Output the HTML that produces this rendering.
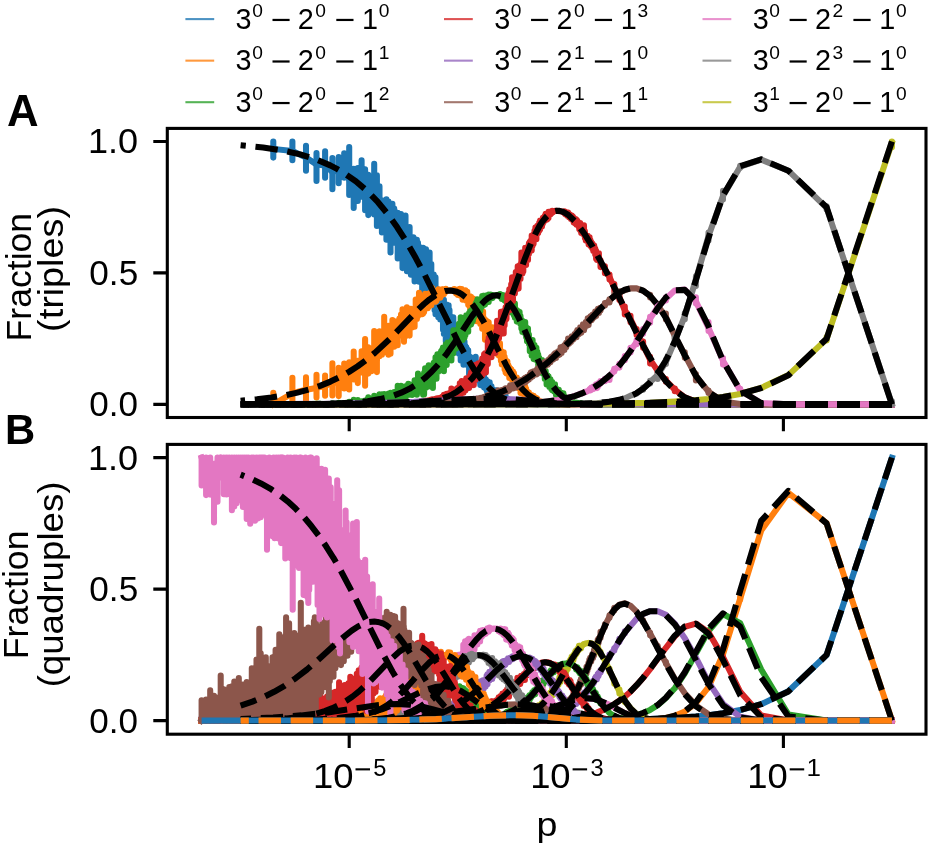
<!DOCTYPE html><html><head><meta charset="utf-8"><style>html,body{margin:0;padding:0;background:#fff;}svg{display:block;filter:blur(0.4px);}</style></head><body><svg width="931" height="845" viewBox="0 0 931 845">
<rect width="931" height="845" fill="#fff"/>
<defs><clipPath id="cA"><rect x="167.3" y="128.4" width="758.7" height="289.1"/></clipPath><clipPath id="cB"><rect x="167.3" y="444.4" width="758.7" height="289.8"/></clipPath></defs>
<g clip-path="url(#cA)" fill="none" stroke-linejoin="round">
<path d="M273.3 148.9L292.4 151L306 157.5L316.5 164.4L325.1 165.6L332.4 172.1L338.7 169.5L344.2 165.3L349.2 179.4L353.7 183.4L357.8 179.9L361.6 183.8L365.1 188.4L368.3 197.9L371.4 195.3L374.2 193.7L376.9 209.4L379.5 206.8L381.9 218.7L384.2 217.6L386.4 223.9L388.5 216.5L390.5 225.6L392.4 218.6L394.2 222L396 226.7L397.7 243.7L399.4 233.9L401 233.3L402.5 234.7L404 247.2L405.5 243.1L406.9 248.4L408.3 249.7L409.6 240.7L410.9 254.1L413.4 248.4L414.6 259.2L415.7 258.5L416.9 259.3L418 261.6L419 271L421.1 260.3L422.2 278.6L423.1 267L425.1 279.1L426 266.4L427.8 287.4L428.7 282.3L429.6 281.3L430.4 287.1L431.3 284.2L432.1 289.8L433.7 285.3L434.6 298L435.5 295.4L436.5 300.7L437.4 299.6L438.3 307.9L439.3 306.9L440.2 306.9L441.1 303.7L442.1 304.6L443 317.8L443.9 317.2L444.9 312.7L445.8 326.2L446.7 321.4L447.7 321.7L448.6 317.9L450.5 328.3L452.3 331.7L453.3 326.6L454.2 336L455.1 337.3L456.1 336.7L457 340.2L457.9 342.3L458.9 347.2L459.8 345.2L460.7 348.3L461.7 344.8L463.5 352.1L464.5 351.6L465.4 356.3L466.3 353.9L467.3 358.5L468.2 358.5L469.1 365.1L470.1 362.3L471 368.9L471.9 371.1L472.9 368.3L473.8 371.1L474.7 370L475.7 366.9L476.6 374.8L477.5 375.7L478.5 375.3L479.4 376L480.3 378.4L481.3 379.7L482.2 379.3L483.1 380.7L484.1 384.3L485 383.8L485.9 384.7L486.9 387.2L487.8 386.4L488.7 388.7L489.7 387.3L490.6 389.2L492.5 391.7L493.4 391.9L494.3 394.5L495.3 394.3L496.2 393.6L497.1 396.3L498.1 394.6L499 397.1L500 395.9L500.9 397.5L501.8 397L503.7 399.2L504.6 398.2L505.6 398.6L506.5 399.7L509.3 401L510.2 400.6L511.2 401.4L514.9 402.5L515.8 402.2L516.8 402.6L517.7 402.6L519.6 403.2L525.2 403.8L538.2 404.3L891.9 404.4" stroke="#1f77b4" stroke-width="6.07" stroke-linecap="square"/>
<path d="M273.3 141.5V157.6M292.4 141.5V160.2M306 145.8V170.7M316.5 153.1V180.9M325.1 151.4V177.7M332.4 158.1V189.3M338.7 157V183.2M344.2 153.3V177.8M349.2 147V195M353.7 168.7V207.9M357.8 168V201M361.6 160.4V196.8M365.1 169.4V210.3M368.3 174.8V215.1M371.4 183.3V207.5M374.2 163.9V214.4M376.9 175.4V225.9M379.5 186.4V218.6M381.9 200.4V232.4M384.2 202.2V230M386.4 199.4V239.7M388.5 201.6V231.5M390.5 213.8V252.5M392.4 203.8V232.3M394.2 208.5V242.6M396 212.2V239.7M397.7 212.7V258.5M399.4 221.2V252.7M401 214V247.4M402.5 221.8V268.1M404 234.1V260.9M405.5 215.6V256.6M406.9 235.5V271.3M408.3 234.6V266M409.6 227.1V260.5M410.9 242.4V274.7M412.1 239.4V264.5M413.4 237.3V269.2M414.6 239.4V281.5M415.7 246V270.4M416.9 239.9V272.5M418 242.9V274.8M419 257.8V281.8M420.1 247.4V278M421.1 249.3V276.5M422.2 265V291M423.1 247.8V279.3M424.1 258.4V284.7M425.1 262.6V301.9M426 249.4V279M426.9 253.6V289.9M427.8 276.5V298.4M428.7 271.6V299.7M429.6 252.6V299M430.4 277.1V300.6M431.3 264V296.8M432.1 280V300.9M432.9 276.6V298M433.7 274.5V304.1M434.6 283.3V310.2M435.5 277.4V314.3M436.5 289V313.8M437.4 289V309.6M438.3 296.1V317.2M439.3 295.1V316.2M440.2 295.7V319.4M441.1 292.9V319.5M442.1 293.7V315.5M443 308.7V329.7M443.9 299.7V333.9M444.9 304V327.6M445.8 313V341.6M446.7 304.6V333.4M447.7 310.7V336.6M448.6 305.2V327.1M449.5 310V331.3M450.5 316.5V338.1M451.4 321.6V339.2M452.3 324.3V345.5M453.3 317.4V335.1M454.2 326.9V347.3M455.1 328V345.6M456.1 326.4V346.5M457 326.2V347.2M457.9 332.8V351.4M458.9 337.1V353.8M459.8 337.9V351.9M460.7 340.8V360.5M461.7 338.2V354.1M462.6 336.1V356.7M463.5 343.9V364.7M464.5 341.6V359M465.4 346V363.5M466.3 347.3V361.9M467.3 349.4V365M468.2 350.4V365.5M469.1 358.6V374.5M470.1 356.9V367.3M471 361.6V375.4M471.9 357.8V377.7M472.9 359.4V374.1M473.8 366.7V377.5M474.7 365.4V375.2M475.7 356.7V372M476.6 369.8V379.7M477.5 367.7V379.7M478.5 370.7V379.3M479.4 371.7V381.3M480.3 374.1V385.1M481.3 374.5V383.6M482.2 375.3V383.1M483.1 376.5V386.1M484.1 376.3V387.5M485 379.2V387M485.9 379.6V388.9M486.9 384V390.9M487.8 381.6V389.3M488.7 384.2V392.1M489.7 382.4V391.3M490.6 386V392M491.5 386.4V394M492.5 389.6V395.1M493.4 389.7V394.5M494.3 392.7V399M495.3 392.1V396.8M496.2 390.4V395.9M497.1 394.6V398.1M498.1 391.9V396.3M499 395.6V399.7M500 394.5V398M500.9 396.1V398.7M501.8 394.7V399.6M502.8 395.9V399.2M503.7 398.2V400.4M504.6 397V399.9M505.6 396V399.6M506.5 398.7V400.6M507.4 398.9V401.1M508.4 399.6V401.3M509.3 399.8V401.8" stroke="#1f77b4" stroke-width="6.07" stroke-linecap="round"/>
<path d="M273.3 404.4L292.4 393.3L306 389.7L316.5 387.9L325.1 386.1L332.4 382.7L338.7 382.8L344.2 376.1L349.2 374.7L353.7 368.5L357.8 372.5L361.6 362.3L365.1 360.1L371.4 358.1L374.2 350.6L376.9 359.4L379.5 346.5L381.9 345.3L386.4 340.4L388.5 343.3L390.5 339.4L392.4 333.3L396 331.6L397.7 337.3L399.4 326.7L401 322.4L402.5 321.6L404 323.2L405.5 328.7L406.9 317.5L408.3 320.2L409.6 327.5L410.9 315.6L412.1 320.8L413.4 318.8L414.6 315.2L415.7 307.8L416.9 312L418 308.9L419 303.4L420.1 303L421.1 306.9L422.2 306.4L423.1 308.1L425.1 302L426 301.3L426.9 301.2L427.8 298.5L428.7 301.7L430.4 297.2L431.3 296.9L432.1 295.5L433.7 296.9L434.6 295.2L435.5 296.7L436.5 296.9L437.4 293.3L438.3 293.7L439.3 292.8L440.2 294.4L441.1 292.7L443 292.3L443.9 292.8L444.9 291.3L445.8 290.5L447.7 290.7L449.5 290.4L453.3 290.5L454.2 290.2L456.1 291.2L457.9 291.5L458.9 293L459.8 293.1L461.7 291.9L462.6 294.9L464.5 295.9L465.4 295L466.3 297.8L467.3 296.3L468.2 301.2L469.1 300.9L470.1 302L471 301.2L471.9 301.8L472.9 308L473.8 308.1L474.7 306.8L476.6 313.5L477.5 309.2L478.5 311.9L479.4 313.3L480.3 317.1L481.3 315.1L482.2 319.7L483.1 318.1L484.1 324.7L485 326.3L485.9 325.4L486.9 329.4L487.8 327.7L488.7 330.5L489.7 335.3L490.6 334.6L491.5 337.5L492.5 336.2L493.4 341.9L494.3 343.2L495.3 341.1L496.2 340.5L497.1 343L498.1 349.5L499 350.9L500 349.8L501.8 359.1L502.8 358.5L503.7 359.6L505.6 367.4L506.5 368.6L507.4 366.1L508.4 370.5L509.3 371L511.2 372.8L512.1 375.9L513 376L514 379.7L514.9 380.2L515.8 382.5L516.8 380.8L518.6 385.8L520.5 387.4L521.4 387.5L522.4 391L524.2 391.6L525.2 389.9L527 394L528.9 394L529.8 396.3L530.8 397L531.7 396.7L534.5 399.3L535.4 398.7L537.3 400.2L538.2 400.5L539.2 401.7L540.1 401.2L544.8 403L545.7 402.8L550.4 403.8L551.3 403.6L556 404.1L569 404.4L891.9 404.4" stroke="#ff7f0e" stroke-width="6.07" stroke-linecap="square"/>
<path d="M273.3 392.9V404.4M292.4 377.8V404M306 377.4V402M316.5 374.8V397.5M325.1 375.5V395.8M332.4 363.4V395.5M338.7 367.7V396.1M344.2 363.5V388.4M349.2 362.2V389.5M353.7 351.6V379.5M357.8 360.9V383.1M361.6 351.2V372.4M365.1 339.1V385.8M368.3 347.4V373.6M371.4 348.3V371.3M374.2 331V360.9M376.9 349.7V372.1M379.5 331.4V356.3M381.9 334.1V354.8M384.2 316.7V352.5M386.4 330.1V349.9M388.5 325.7V354.8M390.5 328.6V353.8M392.4 320V342.2M394.2 321.3V346.7M396 321.7V342.1M397.7 329V345.3M399.4 318.6V335.4M401 314.5V333.8M402.5 309.3V329.7M404 315.6V341.8M405.5 315.7V336.2M406.9 307.2V324.8M408.3 311.6V335.1M409.6 318.2V335.6M410.9 308.8V322.8M412.1 314.3V327.5M413.4 311.7V325.2M414.6 308.6V326.8M415.7 299.6V316.6M416.9 305.6V318.9M418 300.2V315.9M419 292.8V309.3M420.1 297.2V309.8M421.1 296.4V314.1M422.2 301.3V314.3M423.1 303V313.4M424.1 296.2V311.9M425.1 293.8V306.8M426 295.9V305.8M426.9 295.7V307.6M427.8 293.8V308.2M428.7 297.2V306.7M429.6 293.7V303.3M430.4 293.1V301.8M431.3 292.1V305.3M432.1 288V300.3M432.9 292.6V300.2M433.7 293.3V300.7M434.6 292.2V298.4M435.5 291.9V301.7M436.5 294.2V300.7M437.4 290.6V297.4M438.3 289.3V297.3M439.3 290.4V294.9M440.2 291.8V297.7M441.1 290.6V296.1M442.1 289.3V294.2M443 289.2V293.6M443.9 291V294.2M444.9 290.2V292.8M445.8 288.8V291.4M454.2 289.1V291.4M455.1 289.6V291.7M456.1 290V293.6M457 289.8V292.9M457.9 289.7V295M458.9 290.9V295.3M459.8 288.9V295.6M460.7 289.9V295.5M461.7 289V296.6M462.6 292V299.8M463.5 291.8V298.5M464.5 290.5V298.5M465.4 290.3V299.1M466.3 294.2V300.7M467.3 291.9V300.8M468.2 297.1V304.7M469.1 296.5V305.7M470.1 296.4V308.5M471 296.9V308.2M471.9 297.7V308.9M472.9 303.2V312.7M473.8 302.3V312M474.7 299.3V311.8M475.7 305.7V316M476.6 304.9V321.2M477.5 304.8V313.6M478.5 305.4V316.9M479.4 307.2V321.2M480.3 312.2V324M481.3 310.1V319.9M482.2 313.5V328.8M483.1 311.6V326.2M484.1 318.5V329.7M485 320.7V339.7M485.9 320.2V332M486.9 323.6V337.1M487.8 321.8V332.8M488.7 322.4V335.4M489.7 327.5V348M490.6 329.9V340.2M491.5 332.4V342.4M492.5 327.2V342.9M493.4 336.2V346.6M494.3 336V353M495.3 335.4V346.6M496.2 334.5V346M497.1 336.9V350.9M498.1 343.6V355M499 345.7V355.6M500 343.2V356.6M500.9 350.9V360.7M501.8 352.2V364.4M502.8 353.6V364.5M503.7 352.3V365.2M504.6 356.9V369.5M505.6 359.9V372.5M506.5 362.7V373.4M507.4 361.6V370.4M508.4 365.2V374.6M509.3 367.4V377.9M510.2 368.4V377.2M511.2 369.3V376.6M512.1 372.7V380.1M513 371.5V379.7M514 373.4V384.1M514.9 376.8V384.8M515.8 379.8V386.3M516.8 377.6V383.5M517.7 380.5V386.7M518.6 382.7V388.3M519.6 380.2V388.8M520.5 385V393.1M521.4 385.1V389.7M522.4 387.5V393.7M523.3 387.3V394.3M524.2 388.7V393.5M525.2 386.6V393.1M526.1 388.8V394.5M527 392.3V397.5M528 392.1V397.6M528.9 392.6V396.9M529.8 394.8V397.6M530.8 395.5V398.4M531.7 395.1V399.8M532.6 396.7V398.9M533.6 395.9V399.5M534.5 397.8V400.3M535.4 397.5V399.6M536.4 398V400.8M537.3 398.8V400.9" stroke="#ff7f0e" stroke-width="6.07" stroke-linecap="round"/>
<path d="M273.3 404.4L306 404.3L316.5 403.7L332.4 404.4L338.7 403.7L344.2 404.1L353.7 401.9L357.8 401.8L361.6 402.8L365.1 402.1L368.3 399.6L371.4 400.4L374.2 400.2L376.9 398.7L379.5 396.6L384.2 398.1L388.5 396.3L390.5 397.4L392.4 397.5L394.2 395.3L396 396.2L397.7 394.2L399.4 393.3L401 388.9L402.5 393.6L404 391.7L405.5 391.1L408.3 387.4L409.6 389.6L410.9 389.6L412.1 390.5L413.4 388.4L414.6 384.6L415.7 384.9L416.9 386.4L420.1 380.7L421.1 382.4L422.2 380.8L423.1 383.8L424.1 381.4L425.1 373.9L426 382.4L426.9 377L427.8 374.8L429.6 375.8L430.4 373.1L432.1 371.5L432.9 375.4L433.7 370L434.6 370.9L438.3 361.9L439.3 364.6L440.2 359.6L443 354.7L443.9 357.9L444.9 356.7L445.8 352.6L446.7 357.7L447.7 351.8L448.6 352.7L449.5 350.9L450.5 353.6L453.3 341.9L454.2 340.3L455.1 341.9L456.1 340.8L457 341.2L457.9 336.3L458.9 336.7L460.7 328.4L462.6 334.3L463.5 331.2L464.5 331.3L465.4 329.1L466.3 321.3L467.3 322.6L468.2 325.5L469.1 318.8L470.1 316L471 318.4L471.9 317.8L475.7 308.7L478.5 305.1L479.4 305.3L480.3 307.8L481.3 304.5L482.2 302.8L483.1 302.8L484.1 300.2L485 301L485.9 300.8L486.9 297.6L488.7 297.5L489.7 296.5L490.6 296L491.5 296.1L492.5 296.9L493.4 295.8L494.3 295.5L497.1 295.1L499 295.8L500 295L501.8 297.2L502.8 296.9L503.7 297.3L504.6 298.9L505.6 298.3L507.4 301.8L508.4 301.6L509.3 301.9L510.2 304.9L511.2 304.8L512.1 306.7L513 303.5L514 310.5L514.9 308.5L515.8 312.5L516.8 314.3L517.7 314.5L519.6 316.9L521.4 324.3L522.4 326.2L523.3 326L524.2 327.9L525.2 328.2L526.1 332.3L528 334.2L529.8 344.7L530.8 346.2L531.7 348.8L532.6 344.8L533.6 351.8L534.5 349.8L535.4 353.2L536.4 353.2L538.2 360.7L541 366L542 369.1L542.9 370.1L543.8 369.3L544.8 376.1L545.7 374.9L546.6 378.2L547.6 378.2L548.5 378.9L549.4 381.6L550.4 382L551.3 386.1L552.2 384.4L553.2 387.5L554.1 387.5L555 389L556 392.5L556.9 391.9L558.8 392.1L561.6 396.5L562.5 395.6L563.4 396.2L564.4 397.7L566.2 399.5L568.1 398.9L569 400.1L570 400.3L571.8 401.7L572.8 401.4L573.7 402.3L583 403.8L598.9 404.4L891.9 404.4" stroke="#2ca02c" stroke-width="6.07" stroke-linecap="square"/>
<path d="M332.4 403.3V404.4M338.7 402.7V404.4M344.2 403.1V404.4M349.2 401.8V404.3M353.7 399.9V403.3M357.8 400V404.4M361.6 401.2V404.4M365.1 400.5V403.9M368.3 397.3V401.3M371.4 398.5V404.4M374.2 395.9V403.4M376.9 396.5V401.1M379.5 394.3V398.7M381.9 394.4V399.8M384.2 394.1V400.8M386.4 394.4V404M388.5 393.5V400.9M390.5 392.7V401.3M392.4 394V400.3M394.2 392V398.2M396 392.8V400.7M397.7 385.7V398.4M399.4 390V397.2M401 385.8V392M402.5 389V397.5M404 387.8V395.2M405.5 386.2V398.3M406.9 385.8V394.4M408.3 383.7V393.4M409.6 384.8V394.7M410.9 384.8V394.6M412.1 384.8V395M413.4 384.4V393.8M414.6 380.4V388.8M415.7 380.6V389.6M416.9 380.7V394.8M418 373.5V389.6M419 377.1V388.8M420.1 375.7V386.4M421.1 377.9V391.2M422.2 376.4V385.7M423.1 378.1V394.7M424.1 372.9V394.5M425.1 368.4V378.9M426 376.8V387.7M426.9 370.1V386.4M427.8 369.8V380.4M428.7 365.2V386.5M429.6 368.2V381.1M430.4 367.5V378.9M431.3 366.8V377.4M432.1 365.2V376.4M432.9 370V387.9M433.7 362.8V375.8M434.6 365.3V378.4M435.5 357.3V374.5M436.5 360V378.7M437.4 354.4V371M438.3 356.6V371.7M439.3 357.5V370.7M440.2 353.5V365.1M441.1 351.3V363.1M442.1 349.8V362.2M443 347.6V360.2M443.9 352.3V371.3M444.9 351.3V363M445.8 344.4V361.3M446.7 348.4V364.9M447.7 342.5V358.6M448.6 346.2V360.5M449.5 343.2V356.6M450.5 345.2V359.2M451.4 341.3V360.4M452.3 339.6V352.5M453.3 330.2V353.5M454.2 331.9V346.5M455.1 334.4V347.9M456.1 330.1V348.6M457 334.5V347.4M457.9 330.1V342.3M458.9 323.7V343.7M459.8 326V338.9M460.7 317.2V333.5M461.7 317.8V337.9M462.6 329V340M463.5 325.1V336.8M464.5 326.4V337.8M465.4 323.4V335.2M466.3 315.3V330.3M467.3 316.6V327.8M468.2 320.1V331.7M469.1 313V325.7M470.1 311.4V324.6M471 311.6V324.6M471.9 309.9V322.4M472.9 310.3V320.7M473.8 308.4V317.6M474.7 306.2V315.4M475.7 303.5V314.6M476.6 301.7V311.9M477.5 299.2V312.3M478.5 299.8V308.5M479.4 299.7V309.7M480.3 304.4V311.2M481.3 301.2V307.4M482.2 296.1V306.3M483.1 295.9V305.6M484.1 295.9V304.9M485 298.6V304.4M485.9 298.3V303.1M486.9 295.3V299.8M487.8 295.7V301.8M488.7 294.5V302M489.7 295V298.6M490.6 294.6V298.1M491.5 294.9V297.4M492.5 295.8V298.1M500 294.1V296.1M500.9 295V297.6M501.8 296V298.9M502.8 295.1V298.7M503.7 295.9V299.4M504.6 296.6V300.5M505.6 295.7V300.4M506.5 297.8V302.6M507.4 299.7V306.3M508.4 297.8V304.1M509.3 299.1V304.5M510.2 301.9V309.3M511.2 297V312.5M512.1 301.2V309.5M513 300.4V307.7M514 307V315.5M514.9 303.5V317.7M515.8 309.2V316M516.8 310.4V321.6M517.7 310.7V318.8M518.6 311.6V319.9M519.6 312V320.8M520.5 316V324.3M521.4 319.8V328.5M522.4 320.7V331.9M523.3 321.9V329.9M524.2 323.2V332.7M525.2 322V333.2M526.1 327V336.9M527 328.5V341.3M528 328.6V338.5M528.9 334.6V343.8M529.8 340.5V351.3M530.8 342.2V350.8M531.7 344.3V355.8M532.6 340.1V349M533.6 346.3V359.1M534.5 345.1V354.6M535.4 349.4V357.8M536.4 347.8V356.8M537.3 351.8V361.2M538.2 354.5V364.9M539.2 357.8V366.4M540.1 360.2V367.6M541 362.8V370.5M542 360.1V373.1M542.9 365.9V373.5M543.8 366.3V372.3M544.8 371.3V379M545.7 371V378.6M546.6 375.6V384.4M547.6 375.5V381.7M548.5 376.2V382.3M549.4 379.1V387M550.4 379.2V384.8M551.3 383.3V388.9M552.2 382V390.2M553.2 385.1V389.6M554.1 385.6V391.6M555 384.4V390.9M556 390.4V394.9M556.9 389.1V393.9M557.8 390.4V393.6M558.8 389.7V394.9M559.7 392.6V395.8M560.6 392.5V395.9M561.6 395.3V398.9M562.5 394.5V397.4M563.4 393.4V397.2M564.4 396.1V399.5M565.3 397V399.5M566.2 398.3V400.4M567.2 398.1V399.8" stroke="#2ca02c" stroke-width="6.07" stroke-linecap="round"/>
<path d="M273.3 404.4L390.5 404.3L397.7 403.8L401 404L402.5 403.5L404 403.8L408.3 403.3L409.6 403.5L410.9 403.2L412.1 403.5L413.4 403L414.6 403.3L415.7 403.1L416.9 402.4L419 402.7L420.1 402L422.2 402.7L423.1 402.1L424.1 402.6L425.1 401.7L426 401.5L426.9 402.1L428.7 401.5L430.4 401.7L431.3 400.9L432.1 402L432.9 401L435.5 400.1L436.5 400.7L437.4 399.5L440.2 400L441.1 399.6L442.1 398.3L443 398.9L444.9 396.7L445.8 396.4L446.7 395.6L447.7 396.8L448.6 397.1L449.5 394.8L450.5 395L451.4 393.7L452.3 394.3L453.3 392.6L457.9 390.8L458.9 390.2L459.8 388.6L460.7 389.8L461.7 386.1L462.6 387.9L463.5 385.5L464.5 386.3L465.4 385.7L466.3 381.3L467.3 384.1L468.2 384.8L470.1 381.3L471 375.9L471.9 378.3L472.9 375.8L473.8 378.3L474.7 374.6L475.7 372.7L476.6 369.1L477.5 372.9L478.5 368.9L479.4 368.1L480.3 369.6L481.3 365.9L482.2 365L483.1 368.3L484.1 359.8L485 358.3L486.9 359.5L487.8 350.7L488.7 351.9L490.6 345.1L491.5 348.3L492.5 342.7L493.4 343.5L495.3 338.9L496.2 336.5L497.1 331.1L498.1 331.7L499 330.2L500 328.2L500.9 324L501.8 325.3L503.7 317.9L504.6 317L505.6 313.1L506.5 312L507.4 301.6L508.4 301L509.3 301.1L510.2 300L511.2 290.6L512.1 293.5L513 292.1L514.9 285.6L515.8 279.8L516.8 281.2L517.7 272.6L518.6 278.3L519.6 271.3L520.5 273.3L521.4 263.1L522.4 266.3L525.2 254.8L526.1 258.1L527 253.8L528 253.9L528.9 248L531.7 243.1L532.6 240.3L533.6 238.9L535.4 230.9L536.4 235L537.3 230.2L538.2 228.9L539.2 225.9L540.1 226.4L541 223.8L542 223.4L542.9 220.1L544.8 218.6L545.7 217L546.6 216.6L547.6 216.6L548.5 214.2L550.4 213.3L551.3 212.2L552.2 211.7L553.2 212.1L555 210.8L556 210.8L561.6 211.4L563.4 212.5L564.4 212.2L565.3 213.3L568.1 214.5L570.9 217.8L571.8 216.9L573.7 220.8L575.6 221.5L576.5 222.8L577.4 222.8L578.4 224.3L579.3 227.1L580.2 228L581.2 230.3L582.1 230.2L583 231.6L584 230.5L585.8 238L586.8 238L587.7 238.7L588.6 241.6L591.4 244.4L593.3 248.9L594.2 248.7L595.2 251.8L596.1 253.3L597 256L598 257L598.9 257L600.5 262.6L604.9 269L609.5 277L614.3 287.9L619.4 297.5L624.8 310.2L630.5 319L650.1 359.6L657.7 370.9L665.9 380.5L674.8 389.6L684.8 397.3L695.9 401.6L708.5 403.8L723 404.3L891.9 404.4" stroke="#d62728" stroke-width="6.07" stroke-linecap="square"/>
<path d="M424.1 401.6V403.4M425.1 400.7V402.4M426 400.7V402.3M426.9 401.3V402.9M427.8 401V402.8M428.7 400.4V402.4M429.6 400.3V402.2M430.4 400V404M431.3 399.5V402.7M432.1 400.9V403M432.9 399.3V403.5M433.7 399.8V402M434.6 399.6V403.5M435.5 398.8V401.1M436.5 399V402.6M437.4 398.4V401.4M438.3 398.4V401.4M439.3 398.1V401.6M440.2 398.2V401.2M441.1 398.3V403.2M442.1 396.7V400.4M443 397.1V400.6M443.9 394.9V400.3M444.9 395V398.3M445.8 394.7V398.5M446.7 393.9V397.1M447.7 395.1V398.5M448.6 394.5V399.3M449.5 393V396.7M450.5 392.6V397.7M451.4 388.5V395.9M452.3 391.9V397M453.3 389.5V395.6M454.2 390.1V395.7M455.1 389.9V394.8M456.1 389.3V395.1M457 388.6V393.8M457.9 387.7V393.9M458.9 387.3V393.6M459.8 383.4V391.9M460.7 385.9V396.5M461.7 381.1V389.6M462.6 384.2V393M463.5 382.5V392.8M464.5 383.5V389.8M465.4 381.5V390.4M466.3 378.3V386.7M467.3 379.8V388.1M468.2 380.8V388.1M469.1 379.7V387.9M470.1 375.5V385.9M471 372.6V384.2M471.9 373.7V384.7M472.9 365.8V379.3M473.8 374.4V385.1M474.7 368.2V380.1M475.7 364.9V379.7M476.6 364.7V375.1M477.5 367.1V377.4M478.5 363.2V373.1M479.4 363.4V373.2M480.3 365.1V375.5M481.3 361.6V370.6M482.2 358.6V375.6M483.1 363.9V373.9M484.1 354.3V364.3M485 353.3V369M485.9 354.1V372.4M486.9 352.7V364.8M487.8 341.6V364M488.7 337.9V357.3M489.7 343.1V357.6M490.6 335.2V350.5M491.5 343V357.3M492.5 336.6V349.5M493.4 337.1V350M494.3 334.4V346.7M495.3 333.4V353M496.2 331.2V345.2M497.1 320.8V340.7M498.1 325.3V338.6M499 322V338.3M500 321.3V334.6M500.9 311.9V334.1M501.8 318.6V331.7M502.8 314.1V333.3M503.7 311V333.4M504.6 310.7V325.6M505.6 307.3V320.2M506.5 306.2V318.7M507.4 295.3V307.5M508.4 293.4V308M509.3 289.4V307M510.2 292.6V310.1M511.2 284.2V299.6M512.1 277.4V301.8M513 282.6V301.1M514 280.4V294M514.9 279.7V293.6M515.8 272V288.1M516.8 275.9V287.8M517.7 266.4V278.7M518.6 271.2V288.6M519.6 265.3V278.6M520.5 268V279M521.4 252.5V268.4M522.4 259V273.6M523.3 255.7V271.5M524.2 252.9V263.3M525.2 247.7V259.7M526.1 253.1V265M527 247.3V258.6M528 249.5V260M528.9 243.3V254.1M529.8 241.7V251.4M530.8 240.5V249M531.7 235.6V250.6M532.6 235.4V245.8M533.6 234.3V243.7M534.5 230.7V239M535.4 227.6V234.2M536.4 230.2V239.3M537.3 225.9V233.5M538.2 225.2V232.9M539.2 222.9V230.7M540.1 220.6V229.6M541 220.5V227.1M542 220.8V226.4M542.9 217.7V223.5M543.8 217.5V221.5M544.8 215.9V220.8M545.7 213.7V219.7M546.6 214V219.7M547.6 215.1V218.9M548.5 211.7V217.9M549.4 212.6V214.9M550.4 212.3V214.5M551.3 211.2V213.6M552.2 210.9V212.5M564.4 211.2V213M565.3 212.3V214.2M566.2 212.7V214.6M567.2 212.5V215.7M568.1 212.6V215.5M569 214.6V217.3M570 214.6V217.8M570.9 216.5V219M571.8 215.6V218.7M572.8 216.6V220.2M573.7 217.7V222.4M574.6 219.3V222.9M575.6 219V223.8M576.5 219.7V224.7M577.4 220.9V224.6M578.4 222.4V225.9M579.3 222.7V229.2M580.2 223.1V230.2M581.2 228.2V232.9M582.1 228.1V232.8M583 229.7V234M584 225.4V233M584.9 231.4V238.1M585.8 235.8V240.6M586.8 235.8V240.6M587.7 235.7V240.7M588.6 239V244.6M589.6 237.3V244.9M590.5 240.2V246M591.4 242.3V247M592.4 243.6V248.6M593.3 246.7V251M594.2 245.5V251M595.2 248.6V254.4M596.1 250.9V258.8M597 253.7V259.9M598 254.7V259.4M598.9 253.2V260.3M600.5 260.2V267.1M604.9 266.3V273.3M609.5 274.6V279.6M614.3 284V291.3M619.4 293.2V300.1M624.8 306.5V314.5M630.5 315.7V322.3M636.6 329.1V335M643.1 341.5V347.8M650.1 356.9V363.6M657.7 369.3V373M665.9 379V381.8M674.8 388.6V391.3" stroke="#d62728" stroke-width="6.07" stroke-linecap="round"/>
<path d="M273.3 404.3L306 403.8L316.5 404.1L332.4 403.8L338.7 404.1L353.7 403.4L376.9 403.3L384.2 402.7L409.6 402.4L410.9 402L413.4 402.2L414.6 401.8L419 401.4L420.1 401.8L421.1 401.4L429.6 401.4L432.9 401L433.7 401.2L443.9 400.3L453.3 399.8L455.1 400.1L456.1 399.7L457.9 399.8L460.7 399.4L462.6 399.6L465.4 399.2L467.3 399.4L476.6 398.8L493.4 398.7L517.7 399.5L525.2 400.1L530.8 401.1L531.7 400.8L535.4 401.1L542 402.1L549.4 402.5L550.4 402.8L566.2 403.9L579.3 404.3L891.9 404.4" stroke="#9467bd" stroke-width="6.07" stroke-linecap="square"/>
<path d="M273.3 404.4L399.4 404.2L418 403.7L422.2 403.8L429.6 403.4L430.4 403.6L431.3 403.2L434.6 403.4L436.5 403.1L438.3 403.2L440.2 402.8L446.7 402.8L453.3 402L455.1 402.3L456.1 401.9L460.7 401.5L464.5 400.7L466.3 400.8L468.2 399.9L469.1 400.3L470.1 399.7L471.9 399.3L472.9 399.8L473.8 398.9L474.7 399.2L475.7 399.1L477.5 398.5L479.4 398.4L480.3 397.7L481.3 398.1L482.2 398L483.1 397.2L485 396.7L485.9 397.2L486.9 396.2L487.8 396.1L488.7 395.4L489.7 396.2L490.6 395.4L492.5 395.6L494.3 393.9L495.3 394.2L496.2 394L497.1 393.1L499 392.3L500 392.7L501.8 391.2L502.8 391.6L503.7 391.3L505.6 389.4L506.5 390.3L507.4 390.6L511.2 387.2L513 387L514 386.1L514.9 386.2L515.8 385.2L516.8 385L517.7 382.6L519.6 383.5L521.4 382.2L522.4 382.4L524.2 380.7L525.2 379.1L526.1 379.3L528 378.6L528.9 377.9L529.8 376.6L530.8 376L531.7 374.5L532.6 375L533.6 373.2L535.4 372.5L536.4 373.1L539.2 368.7L540.1 368.7L541 367.6L542 367.6L543.8 366.3L544.8 364.4L546.6 363.6L549.4 360.8L550.4 360.8L551.3 358.1L552.2 358.3L553.2 357.6L554.1 355.7L555 355.2L556 355.1L556.9 353.8L557.8 354L558.8 352.8L559.7 353.1L560.6 349.7L561.6 351L562.5 348.3L563.4 348.4L564.4 347.6L568.1 341.8L569 341.9L570 340.6L570.9 340.7L571.8 338.7L573.7 337.6L577.4 333L578.4 332.7L579.3 331.9L580.2 329.8L581.2 330.6L583 326.2L584 328.2L585.8 323.8L586.8 324.4L587.7 320.4L588.6 323L589.6 319.2L590.5 318.1L592.4 317.3L593.3 315.9L594.2 315.8L595.2 313.6L596.1 313.9L598 310.6L598.9 311L600.5 308.9L604.9 304.2L609.5 300.8L614.3 295.5L619.4 292.5L624.8 290.2L630.5 288.3L636.6 288.4L643.1 290.8L650.1 295.9L657.7 305.4L665.9 317L674.8 336L695.9 375.8L708.5 391.7L723 401.5L740.2 404.1L761.2 404.4L891.9 404.4" stroke="#8c564b" stroke-width="6.07" stroke-linecap="square"/>
<path d="M486.9 395.5V397M487.8 395.5V397M488.7 394.6V396.6M489.7 395V397.2M490.6 393.6V396.4M491.5 394.5V396.2M492.5 394.6V397M493.4 393.7V396.6M494.3 392.6V394.7M495.3 393.3V395M496.2 392.5V394.8M497.1 392.1V394.2M498.1 390.3V394.8M499 391.5V393.3M500 391.7V393.6M500.9 390.6V393.4M501.8 390.1V393M502.8 390.6V392.8M503.7 390V392.3M504.6 389.1V391.3M505.6 388.3V390.3M506.5 388.9V391.3M507.4 389.4V391.5M508.4 388.1V391M509.3 387.1V390.2M510.2 385.4V389.1M511.2 385.9V388.5M512.1 386V388.5M513 384.9V388.4M514 384.9V387.4M514.9 384.9V387.2M515.8 383.9V387.6M516.8 382.3V387M517.7 381.3V384.8M518.6 381.8V384.7M519.6 382.1V384.7M520.5 380.6V384.7M521.4 380.1V383.4M522.4 379.7V384.2M523.3 380.1V382.4M524.2 378.5V382M525.2 377.9V382.4M526.1 378V381.6M527 376.9V380.7M528 377.1V379.9M528.9 376.1V379.6M529.8 374.3V377.9M530.8 372.6V377.8M531.7 372V376.6M532.6 373.2V376.5M533.6 371.3V374.4M534.5 371.8V374.4M535.4 370.9V373.7M536.4 371.7V374.4M537.3 368.7V373.7M538.2 368.3V371.9M539.2 366.9V371.8M540.1 367.4V370.8M541 366.3V368.9M542 365.4V368.9M542.9 365.3V368.3M543.8 364.9V367.7M544.8 361.9V366M545.7 362.5V365.6M546.6 362.1V365M547.6 360.8V364.7M548.5 359.8V363.7M549.4 359.4V362.5M550.4 357.8V362.2M551.3 356.8V359.5M552.2 356.2V359.7M553.2 356.3V359.6M554.1 354.4V357.1M555 353.3V357M556 353.8V357.9M556.9 352.3V355.5M557.8 352.2V355.5M558.8 351V355.1M559.7 350.6V354.6M560.6 347.3V351.4M561.6 348.9V352.9M562.5 346.7V349.9M563.4 346.3V350M564.4 345.2V350M565.3 344.3V347.8M566.2 342.9V347.2M567.2 342.2V345M568.1 338.6V343.6M569 340.3V343.7M570 338.9V342M570.9 339.1V342.1M571.8 336.3V340.1M572.8 336.5V339.8M573.7 336V339.1M574.6 334.1V338.1M575.6 333.8V337.4M576.5 331.8V337.2M577.4 330.1V334.5M578.4 331.2V334.4M579.3 329.5V333.7M580.2 327.4V333.2M581.2 327.7V332.7M582.1 327.3V330.3M583 324.3V330.1M584 325.7V330.2M584.9 323.8V327.6M585.8 322V325.2M586.8 322.6V325.8M587.7 318.4V323.4M588.6 321.6V325.1M589.6 317.4V320.7M590.5 316.2V319.5M591.4 315.8V320.3M592.4 314.8V318.9M593.3 314.3V317.7M594.2 314.5V317.3M595.2 311.6V315.2M596.1 312.7V316.1M597 310.5V314M598 308.9V312.2M598.9 308.9V312.9M600.5 307.7V310.6M604.9 303V305.5M609.5 299.4V302.4M614.3 294V296.6M619.4 291.2V293.9M650.1 294.7V297.4M657.7 303.9V306.8M665.9 313.6V319.5M674.8 333.5V338.4M684.8 352.4V357.8M695.9 374.1V380.4M708.5 390.6V393" stroke="#8c564b" stroke-width="6.07" stroke-linecap="round"/>
<path d="M273.3 404.4L447.7 404.4L508.4 403.8L533.6 402.8L548.5 401.4L555 400.3L556 400.4L560.6 399.4L561.6 399.6L562.5 399.1L563.4 399.2L564.4 398.5L565.3 398.8L567.2 398.4L568.1 397.6L569 397.8L570 397.3L571.8 397.2L573.7 396.2L578.4 394.8L580.2 393.6L581.2 393.6L584 392.8L584.9 391.7L585.8 392L588.6 390.5L589.6 389.2L590.5 390.2L591.4 388.8L592.4 388.1L593.3 388.2L596.1 385.5L597 385.9L598 385.6L598.9 383.8L600.5 382.4L609.5 377L614.3 370L619.4 365.4L624.8 357.8L630.5 350.8L636.6 342L643.1 331.7L650.1 318.6L657.7 307.1L665.9 298.8L674.8 290.4L684.8 289.5L695.9 301.4L708.5 327.9L723 360.8L740.2 390.6L761.2 403L788.4 404.4L891.9 404.4" stroke="#e377c2" stroke-width="6.07" stroke-linecap="square"/>
<path d="M591.4 387.5V389.7M592.4 387.2V388.8M593.3 386.5V389M594.2 386.6V388.2M595.2 385.7V387.5M596.1 384.2V386.4M597 384.9V388.1M598 384.7V386.4M598.9 382.8V384.9M600.5 381V383.3M604.9 378.9V381.2M609.5 375.6V380M614.3 368.7V371.6M619.4 363.9V367.6M624.8 356.1V360.2M630.5 347.8V352.4M636.6 340.2V344.2M643.1 329.1V333.7M650.1 316.8V322.7M657.7 305V309.6M665.9 297.3V300.5M695.9 297.4V303.4M708.5 322V330.9M723 358V364.6M740.2 388.9V391.7" stroke="#e377c2" stroke-width="6.07" stroke-linecap="round"/>
<path d="M273.3 404.4L534.5 404.4L584 403.8L597 403.2L614.3 401.1L624.8 398.4L630.5 395.6L636.6 393.6L643.1 388.4L657.7 374.9L665.9 362L674.8 340.8L684.8 316L695.9 279.5L708.5 236L723 196L740.2 166.7L761.2 159.6L788.4 170.7L826.6 207.9L891.9 404" stroke="#7f7f7f" stroke-width="6.07" stroke-linecap="square"/>
<path d="M643.1 387.5V389.8M650.1 380.7V383.5M657.7 372.3V379M665.9 359.9V363.9M674.8 337.2V344M684.8 313.1V319.2M695.9 276.3V286.1M708.5 232.5V240.7M723 190.7V199.4M740.2 165.7V167.7M826.6 206.4V209.5M891.9 401.2V404.4" stroke="#7f7f7f" stroke-width="6.07" stroke-linecap="round"/>
<path d="M273.3 404.4L556 404.2L604.9 403.8L650.1 402.9L684.8 401.1L708.5 399L723 397L740.2 393.9L761.2 387.9L788.4 375.1L826.6 339.1L891.9 142.9" stroke="#bcbd22" stroke-width="6.07" stroke-linecap="square"/>
<path d="M826.6 337V340.5M891.9 141.5V147.2" stroke="#bcbd22" stroke-width="6.07" stroke-linecap="round"/>
<path d="M891.9 404.4L541.8 404.3L528.9 404L521.2 403.3L514.1 402L507.5 400L502.8 398L498.4 395.4L494.1 392.4L490 388.9L482.4 380.7L474.2 369.6L466.6 357.4L458.7 343L424.7 274.8L415.8 258.1L407.2 243L397.2 227.3L387.8 214.1L378 202.2L367.7 191.5L355.8 181.2L343.5 172.7L337 168.9L330.2 165.4L315.7 159.3L300.2 154.4L282.7 150.5L263.1 147.5L240.6 145.2" stroke="#000" stroke-width="6.07" stroke-dasharray="22.46 9.71" stroke-linecap="butt"/>
<path d="M891.9 404.4L568.2 404.4L551.5 403.7L546.5 403L541.8 402L535.2 399.4L528.9 395.4L523.1 390.1L519.4 385.8L515.8 381.1L510.7 373.2L505.9 364.7L483.6 321.6L477.6 311.7L472 303.8L466.6 298L461.6 294.1L458.7 292.5L455.9 291.4L450.5 290.5L445.4 291L440.6 292.6L435.2 295.4L429.5 299.4L424 304L418.3 309.4L390.1 338.6L374.8 352.9L366.2 360L357.7 366.3L349 371.9L340.2 376.9L330.4 381.6L320 385.9L309.1 389.5L297.4 392.6L285 395.3L271.5 397.5L256.9 399.3L240.6 400.8" stroke="#000" stroke-width="6.07" stroke-dasharray="22.46 9.71" stroke-linecap="butt"/>
<path d="M891.9 404.4L600.5 404.4L584.8 403.9L577.8 403L574.5 402.2L568.2 399.9L562.3 396.3L556.7 391.1L551.5 384.6L546.5 376.7L541.8 367.9L537.3 358.5L523.1 326.7L517.6 315.7L514.1 309.6L510.7 304.7L505.9 299.3L501.3 296.3L496.9 295.2L492.7 295.8L488.7 297.7L484.9 300.7L480 305.7L472 316.2L455 342L447.1 353.3L439 363.6L431.6 371.8L424.7 378.2L417 384.1L409.4 388.8L401.3 392.7L391 396.4L380 399.1L367.7 401.2L352.9 402.6L336.2 403.5L315.1 404L240.6 404.4" stroke="#000" stroke-width="6.07" stroke-dasharray="22.46 9.71" stroke-linecap="butt"/>
<path d="M891.9 404.4L723 404.3L708.5 403.8L695.9 401.8L684.8 397.4L674.8 390.4L665.9 381.1L657.7 370L650.1 357.9L643.1 345.4L636.6 332.8L614.3 287.4L604.9 268.9L592.3 246.3L584.8 234.3L577.8 224.7L574.5 220.8L568.2 214.9L565.2 213L562.3 211.6L559.5 210.9L556.7 210.8L554.1 211.4L551.5 212.5L549 214.2L546.5 216.5L541.8 222.4L539.5 226L535.2 234.1L531 243.3L525 258.3L507.5 307.4L499.8 327.7L492.7 344.3L486.1 357.6L478.8 369.7L472 378.6L464.6 386.1L456.8 391.8L452.3 394.4L447.9 396.4L442.9 398.2L437.5 399.8L425.4 402L410.5 403.4L394.3 404L371.4 404.3L240.6 404.4" stroke="#000" stroke-width="6.07" stroke-dasharray="22.46 9.71" stroke-linecap="butt"/>
<path d="M891.9 404.4L581.2 404.3L556.7 403.3L512.4 399.3L491.4 398.7L472 399.1L412.8 402L372.5 403.2L319.6 404L240.6 404.3" stroke="#000" stroke-width="6.07" stroke-dasharray="22.46 9.71" stroke-linecap="butt"/>
<path d="M891.9 404.4L761.2 404.4L740.2 404.1L723 401.4L708.5 392.2L695.9 375.8L684.8 355.4L674.8 335.2L665.9 318L657.7 304.8L650.1 295.9L643.1 290.6L636.6 288.3L630.5 288.3L624.8 289.8L619.4 292.6L614.3 296.1L609.5 300L600.5 308.6L574.5 336.5L562.3 349L549 361.4L537.3 371L525 379.7L514.1 386.1L502.8 391.3L491.4 395.3L478.8 398.5L464.6 400.8L448.8 402.4L428.8 403.5L378.4 404.3L240.6 404.4" stroke="#000" stroke-width="6.07" stroke-dasharray="22.46 9.71" stroke-linecap="butt"/>
<path d="M891.9 404.4L788.4 404.4L761.2 403L740.2 390.5L723 360.8L708.5 326.2L695.9 301.1L684.8 289.9L674.8 290.2L665.9 297.5L657.7 308.2L636.6 341.7L630.5 350.8L624.8 358.6L619.4 365.3L614.3 371L609.5 375.7L600.5 383.1L592.3 388.4L581.2 393.7L574.5 396.1L568.2 397.8L556.7 400.2L541.8 402.1L525 403.2L502.8 403.9L445.4 404.4L240.6 404.4" stroke="#000" stroke-width="6.07" stroke-dasharray="22.46 9.71" stroke-linecap="butt"/>
<path d="M891.9 404.4L826.6 207.2L788.4 170.7L761.2 159.3L740.2 166.2L723 195.5L708.5 237.9L695.9 280.2L684.8 315.2L674.8 341.5L665.9 360.3L657.7 373.4L650.1 382.5L643.1 388.7L636.6 393.1L630.5 396.1L624.8 398.3L619.4 399.8L609.5 401.8L596.3 403.2L574.5 404.1L525 404.4L240.6 404.4" stroke="#000" stroke-width="6.07" stroke-dasharray="22.46 9.71" stroke-linecap="butt"/>
<path d="M891.9 141.5L826.6 338.7L788.4 375.2L761.2 388L740.2 393.9L723 397.1L708.5 399L695.9 400.3L674.8 401.8L650.1 402.8L609.5 403.7L549 404.2L240.6 404.4" stroke="#000" stroke-width="6.07" stroke-dasharray="22.46 9.71" stroke-linecap="butt"/>
</g>
<g clip-path="url(#cB)" fill="none" stroke-linejoin="round">
<path d="M201.6 720.6L542.6 720.4L598.6 720.1L643.1 719.3L674.8 718L695.9 716.5L708.5 715.2L723 713.3L740.2 710.1L761.2 704.2L788.4 691.2L826.6 655L891.9 457.8" stroke="#1f77b4" stroke-width="6.07" stroke-linecap="square"/>
<path d="M201.6 720.6L624.8 720.5L643.1 720.1L657.7 719.1L665.9 718L674.8 715.9L684.8 711.6L695.9 703.2L708.5 687.2L723 654.3L761.2 530.5L788.4 492.8L826.6 523.2L891.9 720.2" stroke="#ff7f0e" stroke-width="6.07" stroke-linecap="square"/>
<path d="M723 653.5V655.7M740.2 596.9V599.6" stroke="#ff7f0e" stroke-width="6.07" stroke-linecap="round"/>
<path d="M201.6 720.6L579 720.4L594.9 720.1L609.5 719.4L619.4 718.5L630.5 716.7L636.6 715.2L643.1 713.1L650.1 709.9L657.7 705.2L665.9 697.9L674.8 688.2L684.8 673.2L708.5 630.9L723 614L740.2 623.2L761.2 669.5L788.4 714.6L826.6 720.6L891.9 720.6" stroke="#2ca02c" stroke-width="6.07" stroke-linecap="square"/>
<path d="M201.6 720.6L520.2 720.5L540.8 720.2L555.7 719.6L568.8 718.5L579 717.2L588.4 715.3L595.8 713.1L597.7 712.1L604.9 709.4L614.3 704.3L624.8 696.6L630.5 691.8L643.1 678L650.1 669.2L665.9 647.8L674.8 636.4L684.8 626.8L695.9 623.6L708.5 632.2L723 657.1L740.2 691.8L761.2 715.5L788.4 720.5L891.9 720.6" stroke="#d62728" stroke-width="6.07" stroke-linecap="square"/>
<path d="M201.6 720.6L493.1 720.5L591.2 719.3L657.7 720.6L891.9 720.6" stroke="#17becf" stroke-width="6.07" stroke-linecap="square"/>
<path d="M201.6 720.6L499.7 720.5L516.5 720.2L528.6 719.6L539.8 718.5L547.3 717.1L550.1 716.1L553.8 715.4L554.8 714.8L559.4 713.3L561.3 712L562.2 711.9L564.1 710.5L565 710.5L566.9 709.5L567.8 708.3L570.6 707.3L572.5 705L574.4 704L575.3 702.8L576.2 702.7L578.1 700.3L579 699.9L580 699L584.6 693.5L585.6 693L589.3 687.2L590.2 687L591.2 684.8L593 682.8L595.8 677.8L596.8 677.8L597.7 675.6L600.5 671.6L609.5 656.4L614.3 649.3L619.4 640.8L624.8 632.6L636.6 618.7L643.1 614L650.1 611.2L657.7 611.2L665.9 614.8L674.8 623.6L684.8 638.2L695.9 657.7L708.5 682.1L723 703.8L740.2 716.8L761.2 720.4L891.9 720.6" stroke="#9467bd" stroke-width="6.07" stroke-linecap="square"/>
<path d="M575.3 700.9V703.8M576.2 701.8V703.9M577.2 700.3V702.2M578.1 699.5V702.4M579 698.8V701M580 698.1V700.4M580.9 696.3V698.4M581.8 695.7V698.2M582.8 694.9V696.8M583.7 693.2V696M584.6 692.4V694.8M585.6 691.9V694.3M586.5 690.7V692.8M587.4 688.5V692.1M588.4 687.6V691.1M589.3 685.7V688.3M590.2 685.8V688.7M591.2 683.8V687.3M592.1 682.4V684.7M593 681V684.1M594 680.2V682.6M594.9 678.4V680.6M595.8 676.8V679.3M596.8 676.5V679.4M597.7 674.1V677M598.6 673.1V675.7M600.5 670.1V672.6M604.9 662.8V665.1M609.5 654.5V657.7M614.3 648.3V650.5M619.4 638.7V641.8M624.8 631.4V633.5" stroke="#9467bd" stroke-width="6.07" stroke-linecap="round"/>
<path d="M201.6 720.6L448.3 720.5L474.5 720.3L495.9 719.6L505.3 719L506.2 718.6L509 718.6L511.8 718.3L512.7 717.9L515.5 717.8L523 716.3L524.9 716.3L526.7 715.5L527.7 715.6L532.3 714.6L535.1 713.5L538.9 712.7L539.8 712.1L540.8 712.2L541.7 711.7L542.6 711.8L543.6 711.1L545.4 710.7L546.4 710L550.1 708.9L551 708.1L552 708.1L552.9 707.6L553.8 707.5L557.6 705.9L559.4 704.7L562.2 704L563.2 703.1L566.9 702.3L572.5 700.3L580 698.6L586.5 698.2L594 698.9L598.6 700.2L609.5 704.9L624.8 713.1L636.6 717.6L643.1 719L650.1 719.9L657.7 720.4L674.8 720.6L891.9 720.6" stroke="#e377c2" stroke-width="6.07" stroke-linecap="square"/>
<path d="M201.6 720.6L392.3 720.5L447.4 719.9L474.5 718.7L479.1 718.1L480.1 718.2L481.9 717.8L482.9 718.1L483.8 717.8L488.5 717.5L496.9 716.4L498.7 716.5L500.6 715.7L501.5 716L504.3 715.3L509.9 714.7L514.6 713.8L515.5 713.9L516.5 713.5L517.4 713.8L519.3 713.1L522.1 712.9L523 712.4L527.7 711.7L529.5 711.7L531.4 711.2L541.7 710L552 709.6L559.4 709.7L570.6 711.2L578.1 712.7L580 713.4L584.6 714.3L592.1 716.3L604.9 718.8L614.3 719.8L624.8 720.4L891.9 720.6" stroke="#7f7f7f" stroke-width="6.07" stroke-linecap="square"/>
<path d="M201.6 720.6L329.8 720.4L425 719.6L523 720.6L891.9 720.6" stroke="#bcbd22" stroke-width="6.07" stroke-linecap="square"/>
<path d="M201.6 720.6L509 720.5L522.1 720.3L533.3 719.6L539.8 718.8L546.4 717.5L547.3 716.9L548.2 716.9L549.2 716.3L552 715.5L552.9 715L553.8 713.9L554.8 714L558.5 711.3L559.4 711.4L560.4 710.7L561.3 708.3L562.2 708.8L563.2 708.1L565 705.7L566 705.8L568.8 701.7L571.6 698.8L572.5 698.5L573.4 695L574.4 695.1L576.2 689.9L577.2 689.7L580 683.7L581.8 680.8L582.8 677.4L584.6 675.5L586.5 669.8L587.4 668.9L590.2 659.5L591.2 659.5L592.1 656.1L593 655.8L595.8 647L604.9 625.6L609.5 616.5L614.3 609.2L619.4 604.6L624.8 603.2L630.5 605.8L636.6 611.6L643.1 621.1L657.7 647.3L665.9 662.9L674.8 678.8L684.8 693.3L695.9 705.4L708.5 714.3L723 718.9L740.2 720.4L891.9 720.6" stroke="#8c564b" stroke-width="6.07" stroke-linecap="square"/>
<path d="M559.4 710.1V712.3M560.4 709.5V711.5M561.3 707.5V709.2M562.2 707.7V709.9M563.2 707.3V708.9M564.1 706V708.3M565 704.5V706.7M566 703.8V707.7M566.9 702V705.2M567.8 702V704.6M568.8 700.6V702.8M569.7 699.3V702.1M570.6 698.6V701.3M571.6 697.4V701.2M572.5 697.1V699.9M573.4 693.7V696.4M574.4 692.3V696.8M575.3 691.6V694.6M576.2 687.8V691.3M577.2 688V691.6M578.1 685.7V689.6M579 684.1V688.3M580 681.4V685.4M580.9 679.1V684.8M581.8 679.2V683.6M582.8 673V680.5M583.7 674.8V679.6M584.6 673.5V677.4M585.6 670.4V674.6M586.5 666.7V673.4M587.4 666.8V670.7M588.4 663V667.7M589.3 659.9V664.6M590.2 657.7V661.7M591.2 657.8V661.6M592.1 654.5V658.4M593 654V657.9M594 650.1V655.4M594.9 647.4V652M595.8 645.3V650.9M596.8 643V646.7M597.7 639.9V644.9M598.6 638.6V642.8M600.5 631.9V637.9M604.9 624.3V626.9M609.5 615.2V617.7M614.3 607.9V610.6M643.1 620.4V621.9M650.1 632.8V635.2M657.7 646.1V648.2M665.9 662.1V663.6" stroke="#8c564b" stroke-width="6.07" stroke-linecap="round"/>
<path d="M201.6 720.6L470.7 720.6L498.7 720.1L506.2 719.4L508.1 719.5L509 719.1L509.9 719.4L510.9 718.9L512.7 718.9L515.5 717.9L516.5 718.1L517.4 717.5L520.2 717.3L521.1 716.6L524.9 716L525.8 715.4L527.7 715L529.5 713L530.5 712.6L531.4 712.7L534.2 710.4L536.1 709.9L537 709.2L538.9 706.2L539.8 707.1L540.8 707.1L541.7 704.6L542.6 704.2L544.5 701.4L546.4 701L547.3 700.3L548.2 697.8L549.2 697.4L550.1 695.1L551 695L552 693L552.9 692.5L556.6 684.5L557.6 684.2L558.5 683.2L559.4 679.2L560.4 679L563.2 673.1L566 668.6L566.9 668.3L571.6 659.2L573.4 656.7L574.4 656L575.3 653L576.2 651.9L577.2 651.4L578.1 649.5L579 648.5L580 647.6L580.9 647.4L583.7 644L584.6 644L585.6 643.5L588.4 642.9L591.2 643.3L594 644.8L594.9 645.5L595.8 647.4L597.7 648.4L598.6 650.4L604.9 660.1L614.3 681.3L619.4 691.4L624.8 701.1L630.5 708.2L636.6 714.3L643.1 717.5L650.1 719.5L657.7 720.3L674.8 720.6L891.9 720.6" stroke="#bcbd22" stroke-width="6.07" stroke-linecap="square"/>
<path d="M530.5 711.4V713.5M531.4 712V713.5M532.3 710.6V713.4M533.3 709.8V712.3M534.2 709.4V711.5M535.1 707.8V711.6M536.1 709V710.8M537 708.2V710.7M537.9 706.5V709.3M538.9 705V707.8M539.8 706V708.5M540.8 705V708.3M541.7 703.3V706M542.6 703V705.4M543.6 701.9V704.7M544.5 700.1V703.2M545.4 699.6V703.9M546.4 699.7V702.4M547.3 698.4V701.8M548.2 695.4V699.3M549.2 696V699.1M550.1 692.9V696.8M551 693.2V696.6M552 689.8V695.4M552.9 689.5V695.1M553.8 688.6V693.9M554.8 686.8V690.5M555.7 684.5V688.2M556.6 681.9V687.1M557.6 682.4V685.8M558.5 681.5V684.8M559.4 677.3V682.1M560.4 677.2V682M561.3 675.2V679.6M562.2 673V677.6M563.2 671V675.1M564.1 669.2V673.4M565 668.8V674.2M566 666.9V672.5M566.9 666.3V669.9M567.8 663.7V669M568.8 662.5V666.1M569.7 660.7V664M570.6 659.3V663.6M571.6 656.9V660.8M572.5 656.5V659.5M573.4 655.1V660.3M574.4 653.8V657.2M575.3 651.5V654.8M576.2 650.4V654M577.2 650.2V652.6M578.1 648.1V650.7M579 645.9V649.8M580 645.7V648.4M580.9 646.6V648.6M596.8 647V648.6M597.7 646.8V649.2M598.6 649.3V651.6M600.5 651.9V654M604.9 658.9V661.9M609.5 668.9V672M614.3 680V683.8M619.4 689.6V693.5M624.8 699.7V702.1" stroke="#bcbd22" stroke-width="6.07" stroke-linecap="round"/>
<path d="M201.6 720.6L447.4 720.5L470.7 720.1L480.1 719.5L487.5 718.5L489.4 718.6L490.3 717.9L491.3 718.4L492.2 717.7L493.1 718L494.1 717.5L495.9 717.2L496.9 717.4L497.8 716.7L499.7 716.4L501.5 715.3L502.5 715.5L503.4 714.9L504.3 715L506.2 713.7L507.1 712.6L508.1 712.8L509 712.5L509.9 711.7L510.9 712.2L511.8 710.9L512.7 711.1L513.7 710.6L514.6 709.2L515.5 709.1L516.5 707.9L517.4 708.8L518.3 707.2L519.3 707L520.2 706.1L521.1 706.4L522.1 704L523.9 703.6L524.9 703L525.8 701.9L526.7 699.5L527.7 699.6L528.6 698.9L529.5 697.4L530.5 696.8L534.2 692.1L535.1 692.5L536.1 690.5L538.9 687.3L539.8 686.6L541.7 683.2L542.6 683.1L543.6 682.5L544.5 680.1L545.4 678.7L546.4 678.4L547.3 677.1L548.2 676.6L550.1 673.3L552.9 671.2L553.8 670.9L554.8 669.1L557.6 666.2L558.5 666.1L559.4 665.4L560.4 665.4L561.3 664.4L563.2 663.7L566 663.4L568.8 663.5L573.4 665.4L574.4 666.1L575.3 667.2L577.2 668.2L580 672.3L581.8 673.1L582.8 676.1L583.7 676.3L584.6 677.6L587.4 682.9L592.1 689.4L594 693.4L594.9 693.5L596.8 697.5L597.7 697.7L598.6 699.7L600.5 702.5L604.9 707.3L609.5 713L614.3 716L619.4 718L624.8 719.5L630.5 720.2L643.1 720.6L891.9 720.6" stroke="#2ca02c" stroke-width="6.07" stroke-linecap="square"/>
<path d="M505.3 713.4V714.9M506.2 712.5V714.6M507.1 711.8V713.4M508.1 712V713.6M509 711.8V713.6M509.9 710.8V713.6M510.9 710.6V713.7M511.8 709.9V711.9M512.7 710V712M513.7 709.2V712M514.6 708V710.9M515.5 707.9V710.5M516.5 706.7V708.9M517.4 707.1V709.9M518.3 704.9V708.4M519.3 705.6V708.2M520.2 704.9V707.7M521.1 704.8V707.5M522.1 702.8V707.3M523 702.1V705.5M523.9 702.3V705M524.9 701.8V705M525.8 700.5V704.1M526.7 698V701.3M527.7 697.2V701M528.6 697.1V702.4M529.5 695.3V700.2M530.5 694.9V698.3M531.4 694.3V697.1M532.3 692.4V695.7M533.3 691.9V695.3M534.2 690.4V693.6M535.1 691V694.3M536.1 689V692M537 686.8V691.5M537.9 686.5V689.8M538.9 683.2V689.3M539.8 685.1V688.1M540.8 683.1V686.7M541.7 680.7V685.8M542.6 681.2V686M543.6 681V683.8M544.5 678.3V681.9M545.4 677.1V680.6M546.4 676.5V679.8M547.3 675.7V678.3M548.2 674.8V678.1M549.2 673.7V676.5M550.1 671.5V674.5M551 670.3V674.2M552 670.7V673.1M552.9 670.1V672.2M553.8 668.2V672.3M554.8 666.7V670.1M555.7 667V669.3M556.6 666.4V668.5M557.6 665V667.1M576.2 667V669.4M577.2 667.4V669.4M578.1 668.8V670.8M579 669.9V671.9M580 671.3V673.4M580.9 671.1V673.6M581.8 671.5V674.3M582.8 673.8V677.3M583.7 674.8V677.3M584.6 675.5V678.6M585.6 677.5V680.9M586.5 679.2V682.2M587.4 681.8V684.5M588.4 682.3V685.9M589.3 683.8V686.4M590.2 685.4V688.4M591.2 686.5V689.5M592.1 688.2V690.4M593 689.3V692.4M594 692V695.1M594.9 692.3V694.5M595.8 693.3V696.2M596.8 696.6V700.3M597.7 696.6V698.7M598.6 698.5V700.6M600.5 701.5V703.4" stroke="#2ca02c" stroke-width="6.07" stroke-linecap="round"/>
<path d="M201.6 720.6L420.3 720.6L442.7 720.4L463.3 719.9L472.6 719.1L475.4 719.2L479.1 718.5L480.1 718.9L482.9 718.1L487.5 717.4L489.4 717.6L491.3 717L495 716.5L495.9 716.1L497.8 716.1L499.7 715.5L500.6 714.8L501.5 715L502.5 714.6L503.4 714.6L504.3 714.9L505.3 714.2L508.1 713.8L509 712.9L509.9 713.5L511.8 712.4L512.7 712.2L513.7 712.5L514.6 711.9L517.4 711L519.3 710.7L520.2 710.1L521.1 710.5L523 709.5L523.9 709.6L525.8 709.2L529.5 707.9L539.8 706.2L545.4 706L551 706.3L558.5 707.5L559.4 708.1L561.3 708.3L564.1 709.5L565 709.5L566 710.2L566.9 710.2L568.8 711L569.7 710.9L572.5 712.6L576.2 713.6L577.2 714.4L578.1 714.4L580 715.2L580.9 715.2L581.8 715.9L583.7 716.4L584.6 716.9L587.4 717.4L591.2 718.5L598.6 719.6L604.9 720.2L624.8 720.6L891.9 720.6" stroke="#8c564b" stroke-width="6.07" stroke-linecap="square"/>
<path d="M201.6 720.6L377.4 720.6L417.5 720.3L423.1 720L431.5 720.1L434.3 719.6L442.7 719.4L443.7 719L445.5 719.1L446.5 718.6L448.3 719L450.2 718.6L452.1 718.8L453 718L455.8 718L457.7 717.4L458.6 717.7L460.5 717.3L461.4 716.7L463.3 717L464.2 716.6L465.1 715.5L466.1 716.3L467 715.7L467.9 715.8L468.9 714.8L471.7 715L473.5 713.5L474.5 713.3L475.4 713.9L476.3 712.2L477.3 712.7L478.2 712.8L479.1 711.8L480.1 711.8L481.9 711L482.9 710.3L483.8 710.1L484.7 710.4L485.7 708.5L486.6 708.7L487.5 707.1L488.5 707L490.3 706.1L491.3 704.7L492.2 705.3L493.1 705.2L494.1 703.5L495 705.3L495.9 702.8L496.9 701.6L497.8 701.4L498.7 699.3L501.5 698.4L502.5 696.3L503.4 697L504.3 696L505.3 694.1L506.2 693.4L507.1 691.2L509 692.9L509.9 689.7L510.9 688.2L511.8 688.6L512.7 686L513.7 684.9L514.6 686.1L515.5 685L516.5 684.7L517.4 682.1L518.3 681L519.3 680.1L520.2 680.7L521.1 679.3L523 678L524.9 676L526.7 672.6L527.7 671.6L529.5 670.8L531.4 668.4L532.3 668.2L536.1 665.4L537 665.2L537.9 664L538.9 664.3L539.8 663.4L540.8 663.4L541.7 662.6L548.2 662.3L549.2 663.1L550.1 662.9L551 663.7L552.9 664.3L557.6 668L558.5 668.4L559.4 670.8L560.4 671.3L561.3 672.8L563.2 674.9L564.1 674.9L565 675.4L566 677.2L566.9 680.2L567.8 680.7L568.8 682.9L569.7 683.2L570.6 684.1L572.5 687.2L574.4 691.9L575.3 693.3L576.2 693.5L578.1 695.4L579 697.7L581.8 700.8L583.7 704.3L584.6 704.4L587.4 708.5L588.4 709L590.2 711.5L591.2 711.7L592.1 712.5L594 713.4L594.9 714.4L595.8 714.6L596.8 715.7L597.7 715.9L598.6 716.8L604.9 718.8L609.5 719.7L619.4 720.5L630.5 720.6L891.9 720.6" stroke="#d62728" stroke-width="6.07" stroke-linecap="square"/>
<path d="M466.1 715.5V717.1M467 714.8V716.4M467.9 715V716.5M468.9 713.9V715.6M469.8 714.3V715.8M470.7 713.7V715.8M471.7 713.8V716.2M472.6 713.5V715.4M473.5 712.4V714.7M474.5 712.3V714.3M475.4 712.9V715M476.3 710.4V713.5M477.3 710V714.2M478.2 711.1V713.8M479.1 710.5V714.2M480.1 710.8V713.2M481 709.3V713.1M481.9 710V712.1M482.9 708.9V711.4M483.8 707.4V711.8M484.7 709.2V711.7M485.7 707.1V710.6M486.6 707.2V710.1M487.5 704.9V708.7M488.5 704.9V708.7M489.4 703.2V707.7M490.3 703.6V708.1M491.3 701.4V706.3M492.2 701.4V706.7M493.1 703.6V707M494.1 701.3V704.9M495 701.4V707.4M495.9 701.1V704.8M496.9 700V703.6M497.8 699.7V703M498.7 697.2V702.2M499.7 697.2V701M500.6 696V702.4M501.5 695.9V701.1M502.5 693.5V698.3M503.4 695.4V700.4M504.3 693V698.4M505.3 691.6V695.8M506.2 691.7V695.1M507.1 689.4V693M508.1 689.5V695.3M509 689.8V696.7M509.9 687.2V692.2M510.9 686.5V689.9M511.8 683.8V690.5M512.7 682.5V689.5M513.7 682.5V686.6M514.6 683.5V688.9M515.5 683.2V687.2M516.5 682.7V687.3M517.4 677.9V684.6M518.3 679.2V682.7M519.3 678.2V683.5M520.2 679V684.1M521.1 675.7V681.5M522.1 676.4V680.6M523 675.3V679.5M523.9 674V678.4M524.9 674.1V680M525.8 672.6V675.5M526.7 670.1V675.4M527.7 670.3V673.2M528.6 669.3V672.5M529.5 669V672.2M530.5 668.3V671.1M531.4 667.2V670.5M532.3 666.8V669.3M533.3 666.1V668.7M534.2 665.1V668.4M535.1 665.2V667.1M536.1 664.5V666.2M537 664.1V666M554.8 664.6V666.4M555.7 665.6V667.5M556.6 666.4V668.6M557.6 667V669.6M558.5 667.2V669.4M559.4 669.3V671.9M560.4 669.8V673.1M561.3 671.4V674M562.2 672.6V675.1M563.2 673.2V677.2M564.1 672.5V676.5M565 674.1V677M566 675.7V679.1M566.9 678.1V681.9M567.8 679.5V682.1M568.8 681.6V684.3M569.7 680.1V685M570.6 681.3V685.5M571.6 684.6V687.8M572.5 686V688.5M573.4 688.1V690.6M574.4 689.7V694.2M575.3 691.7V694.5M576.2 692.1V694.9M577.2 692.7V696.3M578.1 694.1V697M579 696.2V699M580 697.7V700.2M580.9 698.7V701.6M581.8 699.8V701.9M582.8 699.9V703.5M583.7 703.2V706M584.6 703.5V705.2M585.6 704.9V706.7M586.5 705.3V707.8M587.4 707.2V709.4M588.4 708V710.3" stroke="#d62728" stroke-width="6.07" stroke-linecap="round"/>
<path d="M201.6 720.6L366.2 720.6L381.1 720.4L384.8 720L385.8 720.3L387.6 720.4L390.4 719.9L391.4 720.2L392.3 719.9L394.2 720L395.1 719.5L397 720L397.9 719.7L398.9 720.1L399.8 719.4L401.7 719.7L404.5 719L405.4 719.5L407.3 719.8L408.2 719.3L409.1 719.5L411 718.8L412.9 719.1L413.8 718.3L414.7 718.6L416.6 718L417.5 718.7L418.5 718.5L419.4 717L420.3 718L421.3 718.2L422.2 717.7L424.1 717.9L427.8 716.4L428.7 717.4L429.7 717.1L430.6 715.6L431.5 716.1L432.5 714.9L433.4 715.2L434.3 716L435.3 714.5L436.2 715.3L439 712.2L439.9 713.5L440.9 712.6L441.8 712.6L442.7 711.8L443.7 714.2L444.6 712.1L445.5 711.1L446.5 710.6L447.4 711.2L448.3 709.4L449.3 708.7L450.2 709.2L452.1 708.7L454.9 705.3L455.8 706.8L456.7 706.7L457.7 706L458.6 703.5L459.5 703.7L462.3 701.6L463.3 701.5L464.2 701.9L467 698.1L467.9 698.3L468.9 697.6L469.8 694.5L470.7 696.1L471.7 694.4L474.5 694.1L475.4 692L476.3 691.5L477.3 688.4L478.2 690.1L480.1 686L481 686.1L482.9 683L483.8 685.2L484.7 682.7L485.7 682.4L486.6 678.6L487.5 679.4L489.4 675.3L490.3 676.8L492.2 674L493.1 673.9L494.1 671.3L495 670.8L495.9 669.8L496.9 669.9L497.8 669.4L499.7 667.6L500.6 667.9L501.5 665.3L502.5 664.2L504.3 663.7L507.1 661.1L508.1 659.6L509 660.6L510.9 658.7L513.7 658.1L516.5 656.5L517.4 656.7L520.2 656.3L523 656.3L524.9 656.8L526.7 657.9L527.7 658L528.6 658.7L529.5 658.4L530.5 658.7L531.4 659.9L536.1 663.3L538.9 666.7L539.8 666.8L540.8 668.7L541.7 668.5L542.6 670.9L543.6 670.8L544.5 674L545.4 674.9L546.4 675.2L548.2 678.3L549.2 677.9L550.1 680.8L551 682L552 684L552.9 683.6L554.8 687.3L555.7 690.2L556.6 690.1L557.6 692L559.4 693.7L560.4 696.1L562.2 697.6L565 702.3L566.9 704.6L567.8 704.5L569.7 707.5L570.6 707.9L572.5 711L573.4 710.1L574.4 710.9L575.3 712.5L577.2 713.3L579 714.8L584.6 717.4L586.5 718.2L587.4 718.1L588.4 718.7L594 719.7L600.5 720.3L614.3 720.6L891.9 720.6" stroke="#9467bd" stroke-width="6.07" stroke-linecap="square"/>
<path d="M417.5 717.8V719.5M418.5 717.8V719.6M419.4 716.1V718M420.3 717.1V718.9M421.3 717.4V719.4M422.2 716.9V718.9M423.1 716.9V718.8M424.1 716.3V719.6M425 716.1V718.2M425.9 716V717.9M426.9 714.2V718.9M427.8 714.8V717.7M428.7 715.8V718.6M429.7 714.9V718.7M430.6 714.5V718.6M431.5 714.8V717.4M432.5 713.4V716.3M433.4 713.7V716.7M434.3 714.8V718.1M435.3 713V715.8M436.2 714V716.6M437.1 712.9V715.6M438.1 711.5V715.2M439 710.1V716M439.9 711.9V715.4M440.9 711V714.1M441.8 710.8V714.1M442.7 710.4V713.6M443.7 709.9V715.7M444.6 710.1V714.7M445.5 706.6V713.7M446.5 708.8V712.4M447.4 709V713M448.3 707V711.2M449.3 704.6V711.5M450.2 705.5V710.9M451.1 706.6V711.3M452.1 705.6V712.3M453 705.1V710.1M453.9 703.1V709.2M454.9 703V708M455.8 703.6V709.2M456.7 704.5V709.5M457.7 702.4V708.4M458.6 699.7V705.6M459.5 700.1V706.5M460.5 700.9V705.8M461.4 699.7V704.7M462.3 699.1V706M463.3 698.4V704.1M464.2 699.3V705.1M465.1 696.4V703M466.1 696.5V703.2M467 695.5V700.4M467.9 695.3V702.4M468.9 693.7V701.4M469.8 691.3V697.9M470.7 693V699.9M471.7 691.1V700.2M472.6 691.7V696.7M473.5 691V696.6M474.5 689.4V697.9M475.4 689.5V695.3M476.3 687.7V693.9M477.3 684.6V692M478.2 687.5V692.6M479.1 685V692M480.1 681.5V688.7M481 682.3V688.8M481.9 681.5V688.8M482.9 680.2V685.6M483.8 681.1V688.5M484.7 680.2V686M485.7 679.9V686.6M486.6 675.9V680.8M487.5 674.3V684.3M488.5 675.3V680.3M489.4 671.9V680.5M490.3 674.6V679.1M491.3 672.2V677.6M492.2 668V678.9M493.1 671.7V676.8M494.1 668.5V674.6M495 665.2V674.3M495.9 667V673.8M496.9 667.9V672M497.8 666.2V671.4M498.7 666.7V670.3M499.7 665.4V669.4M500.6 664.3V670.9M501.5 663.4V667.1M502.5 661.6V665.8M503.4 661V666.2M504.3 661V665.5M505.3 661.3V664.8M506.2 660.2V663.3M507.1 659.9V662.3M508.1 658.3V661.2M509 659.2V661.9M509.9 657.9V660.5M510.9 657.7V659.7M511.8 656.9V659.5M512.7 656.4V659.2M529.5 657.6V660.2M530.5 658V660M531.4 659V661.4M532.3 658.7V661.4M533.3 660.1V662.3M534.2 660.6V663.9M535.1 661V663.8M536.1 662.1V664.5M537 663.2V665.9M537.9 664.2V667.9M538.9 665.1V668.1M539.8 664.7V668.6M540.8 666.9V670.2M541.7 666.1V670.1M542.6 668.7V673.1M543.6 668.8V672.7M544.5 672.3V675.7M545.4 672.8V677.2M546.4 673.4V676.8M547.3 674.9V678.1M548.2 675.7V680M549.2 676.3V680.5M550.1 678.3V683.5M551 679V684.3M552 682.2V686.1M552.9 680.6V686.1M553.8 683V687.5M554.8 685.6V688.9M555.7 688.6V692.1M556.6 687.9V693.5M557.6 690.2V693.6M558.5 691.1V694.5M559.4 692.2V696.8M560.4 694.8V698.3M561.3 695.4V698.7M562.2 695.6V699.1M563.2 697.4V700.7M564.1 698.6V702M565 701.2V703.7M566 702V704.6M566.9 703.6V705.9M567.8 703.5V706.1M568.8 705V708M569.7 706.2V708.4M570.6 707.1V708.8M571.6 708.6V710.2M572.5 709.4V711.7M573.4 709.3V710.8" stroke="#9467bd" stroke-width="6.07" stroke-linecap="round"/>
<path d="M201.6 720.6L334.4 720.5L342.8 720.1L349.4 720.4L350.3 720.1L362.4 720.2L366.2 719.6L368 719.8L369 719.6L370.8 719.9L371.8 719.4L372.7 719.9L375.5 719.4L376.4 719.7L377.4 719.4L379.2 719.7L380.2 719.4L383.9 719.5L384.8 719.1L388.6 719.2L389.5 718.9L391.4 719.2L395.1 718.4L396.1 719.1L397.9 718.4L398.9 718.7L399.8 718.3L401.7 718.6L402.6 717.9L403.5 718.5L404.5 717.8L406.3 718.2L409.1 717.9L410.1 717.5L411 718L411.9 717L413.8 716.8L415.7 717.7L416.6 717.1L418.5 716.6L419.4 716.8L421.3 716.4L422.2 716.8L423.1 715.6L424.1 716.4L425.9 715.5L426.9 716L428.7 715L429.7 715.5L430.6 714.9L434.3 714.8L436.2 714.2L438.1 714.1L439 714.5L440.9 713.4L444.6 713.5L446.5 712.6L447.4 712.8L448.3 712.3L449.3 712.7L450.2 712.1L451.1 712.6L452.1 712.1L453 712.3L453.9 711.7L455.8 711.8L457.7 711.4L458.6 711.6L462.3 710.3L463.3 710.6L467.9 709.6L470.7 709.5L471.7 709L472.6 709.3L474.5 709.1L478.2 708.3L481 708.4L481.9 707.7L482.9 707.9L483.8 707.4L485.7 707.5L486.6 707.2L489.4 707L491.3 706.5L492.2 706.6L493.1 706.1L494.1 706.4L496.9 706.2L497.8 705.5L500.6 705.7L502.5 705.2L509 704.6L518.3 704.2L527.7 704.7L536.1 706.2L540.8 707.9L541.7 707.8L543.6 708.7L545.4 708.9L546.4 709.4L547.3 709.5L554.8 712.6L557.6 713.1L561.3 714.6L562.2 714.6L565 715.8L569.7 717.3L574.4 718.4L580.9 719.4L591.2 720.3L614.3 720.6L891.9 720.6" stroke="#8c564b" stroke-width="6.07" stroke-linecap="square"/>
<path d="M201.6 720.6L328.8 720.4L334.4 720.6L338.2 720.3L343.8 720.5L345.6 720.3L347.5 720.5L355 719.9L355.9 720.2L356.8 720L358.7 720.3L359.6 719.8L364.3 720.1L365.2 719.4L367.1 719.7L369 719.3L369.9 719.7L370.8 719.3L371.8 719.6L372.7 719.2L373.6 719.5L374.6 718.4L375.5 719.4L376.4 718.9L378.3 719.1L379.2 718.5L380.2 718.8L382 718.6L383 718.9L383.9 717.7L384.8 717.9L385.8 717.6L386.7 718.9L387.6 717.7L388.6 718.3L390.4 716.6L392.3 717.3L393.2 716.1L394.2 716L395.1 715L396.1 718L397 715.9L398.9 716.5L399.8 715.4L401.7 717.3L403.5 714.7L404.5 712L405.4 714.6L406.3 714.9L407.3 715.6L408.2 713.2L410.1 711.8L411 713.6L411.9 712.3L412.9 714.1L413.8 710.1L415.7 713.7L416.6 707L417.5 707.6L419.4 706.7L420.3 708.5L421.3 704.2L422.2 707.4L423.1 701.3L425 707.1L425.9 701.1L426.9 698.1L427.8 701.9L428.7 698.3L429.7 700.2L430.6 700.3L431.5 703.8L432.5 694.5L433.4 697.4L434.3 694.5L435.3 697.1L436.2 695.7L437.1 689.8L438.1 692.5L439 691.5L439.9 692.5L440.9 687.8L441.8 685.2L442.7 687.3L443.7 685.4L444.6 686.9L445.5 678.9L446.5 683L447.4 680.5L448.3 674.4L449.3 678.2L450.2 680.4L452.1 674.6L453 667.6L453.9 670.4L454.9 670.2L455.8 666.1L456.7 663.5L457.7 667.4L458.6 660.4L459.5 660.5L460.5 660.2L461.4 665.7L462.3 658L463.3 653.8L464.2 656.4L465.1 649.1L466.1 652.8L467 653.9L467.9 649.1L468.9 648.4L469.8 646L470.7 646.9L471.7 642.7L472.6 645L473.5 642.6L474.5 643.8L476.3 639.1L477.3 639.4L481 633.8L482.9 632.1L485.7 632.3L486.6 630.8L488.5 630.6L489.4 628.7L490.3 629.7L491.3 628.8L494.1 628.6L495.9 628.9L496.9 628.5L498.7 630.1L502.5 631.3L503.4 633.3L505.3 631.9L506.2 635.2L509 636.2L509.9 639.2L511.8 641.9L512.7 640.8L513.7 642.2L514.6 647.3L515.5 648.6L516.5 648.9L517.4 650.7L518.3 649.8L519.3 651.5L520.2 650.8L522.1 656.3L523 656.5L523.9 660.9L524.9 663.2L525.8 663L526.7 663.4L527.7 668.4L528.6 666.9L529.5 668.6L530.5 672L531.4 672.8L532.3 675.1L534.2 677.1L535.1 680.6L536.1 680.1L537.9 683.5L538.9 688.1L539.8 689.5L540.8 688.4L541.7 691.1L544.5 695.9L545.4 696.4L547.3 699.2L548.2 699.6L549.2 702L550.1 701.5L551 704.8L552 702.9L552.9 706.3L553.8 706.2L554.8 707L555.7 708.3L556.6 708.9L558.5 711.5L559.4 711.4L560.4 711.8L562.2 714.1L566 715.4L568.8 717.3L569.7 716.9L570.6 717.6L573.4 718.5L579 719.6L585.6 720.3L598.6 720.6L891.9 720.6" stroke="#e377c2" stroke-width="6.07" stroke-linecap="square"/>
<path d="M372.7 718.4V720.6M373.6 718.5V720.3M374.6 717.5V719.1M375.5 718.2V720.4M376.4 717.7V720.1M377.4 718V720.6M378.3 718.3V720M379.2 717.6V719.8M380.2 717.6V720.6M381.1 717.8V720.4M382 717.5V720.1M383 717.5V720.1M383.9 715.8V718.8M384.8 716.1V719.8M385.8 716.4V719.7M386.7 717.2V720.2M387.6 716.4V719.2M388.6 716.8V719.6M389.5 714.1V719.3M390.4 713.2V718M391.4 714.9V718.9M392.3 713.5V720.6M393.2 714.4V717.5M394.2 714.3V718.4M395.1 711V719.2M396.1 715.3V719.6M397 712.3V717.8M397.9 714.4V718.5M398.9 713.2V718.6M399.8 713.2V717.2M400.7 713.6V718.3M401.7 713.8V719.2M402.6 712.4V718M403.5 712.3V719.6M404.5 709.3V714.7M405.4 711.3V717.9M406.3 711.4V717.2M407.3 712.6V718.8M408.2 708.2V716M409.1 710.2V715.2M410.1 708V714.9M411 711V716.8M411.9 706.8V715.2M412.9 711.1V717.7M413.8 707.3V714M414.7 706.7V716M415.7 708.2V716.6M416.6 703.8V710M417.5 702.1V712.2M418.5 704V711.1M419.4 701.7V710.9M420.3 704.3V712.4M421.3 700.5V708.4M422.2 702.3V711.1M423.1 694.9V706.3M424.1 699.8V707.5M425 700.1V715.2M425.9 697.3V706M426.9 689.6V709.1M427.8 697V707.1M428.7 693.1V702.7M429.7 695.9V707.7M430.6 693.4V704.5M431.5 692.3V708.8M432.5 686.4V699.4M433.4 692.1V704.1M434.3 689.6V700.5M435.3 691.1V705.9M436.2 690.2V706M437.1 683.9V696.4M438.1 686.9V700.6M439 684.9V696.1M439.9 683.9V699.3M440.9 678.2V693M441.8 679.8V690.7M442.7 680.4V692M443.7 680.6V692.4M444.6 680.5V692.8M445.5 672.8V684.7M446.5 677.8V688.9M447.4 670.2V685.9M448.3 667V680.3M449.3 669.7V687.1M450.2 675V685.8M451.1 672.4V683.2M452.1 667.8V683M453 662.7V672.7M453.9 661.7V676M454.9 665.3V679.1M455.8 661V672M456.7 657.7V671.5M457.7 662V674M458.6 654.9V667.7M459.5 655.4V669M460.5 654.9V665.7M461.4 660.9V670.2M462.3 653.2V668.7M463.3 644.8V658.4M464.2 649.7V665.1M465.1 641.3V653.6M466.1 648.3V660.9M467 649.7V662.6M467.9 639.8V653.6M468.9 638.9V659.6M469.8 640V649.9M470.7 639.8V652M471.7 639.2V647.2M472.6 639.6V649M473.5 639V646.3M474.5 635.3V649.6M475.4 638.8V645.5M476.3 636V642.5M477.3 636.4V644.4M478.2 634.9V640.8M479.1 633.3V639.4M480.1 630.7V641.4M481 630.7V637.6M481.9 630.4V636.5M482.9 630V635M483.8 630.3V634.2M484.7 630.3V634.2M485.7 630.8V633.7M486.6 629.3V632.8M487.5 628.4V631.8M488.5 628.8V631.8M489.4 627.6V629.7M498.7 629.2V631.2M499.7 629.3V631.5M500.6 628.5V632.4M501.5 629.7V632M502.5 630V633.1M503.4 630.4V634.7M504.3 629V635.5M505.3 629.3V633.9M506.2 632.8V639.6M507.1 633.1V639.7M508.1 632.7V639.7M509 634.2V638.4M509.9 636.4V641.3M510.9 637.9V642.7M511.8 637.9V645.6M512.7 638.5V643.2M513.7 639.9V645.4M514.6 644.4V650.1M515.5 644.5V653.4M516.5 645.8V651.4M517.4 648.3V656.7M518.3 646.4V652.3M519.3 648.5V655.3M520.2 647.3V653.2M521.1 651.1V657.7M522.1 653.4V660M523 653.8V661.5M523.9 657.9V664.1M524.9 660V665.7M525.8 660.5V666.3M526.7 660.6V666.2M527.7 665.7V670.9M528.6 663.1V671.1M529.5 665.1V671.3M530.5 668.6V674.5M531.4 668.7V675.2M532.3 669.5V678.5M533.3 673.4V681.7M534.2 674.5V681M535.1 674.4V683.1M536.1 677.7V682.6M537 679.1V684.7M537.9 680.2V686.6M538.9 686.2V690.1M539.8 687V692M540.8 686.1V691.7M541.7 688.8V694.7M542.6 688.7V694.9M543.6 691.3V696.4M544.5 694.3V699.4M545.4 694.5V698.5M546.4 696.2V699.6M547.3 697.8V700.9M548.2 696.9V702.7M549.2 698.2V703.8M550.1 698.9V703.2M551 703.5V706.2M552 701.3V704.1M552.9 705.1V708.1M553.8 704.5V707.3M554.8 705.4V708.3M555.7 707.2V709.5M556.6 707.5V710M557.6 709V710.9M558.5 710.5V712.4M559.4 710.5V712.4M560.4 710.6V712.7" stroke="#e377c2" stroke-width="6.07" stroke-linecap="round"/>
<path d="M201.6 720.6L255 720.4L265.8 720.6L267 720.2L271.5 720.6L273.6 720.2L274.6 720.6L278.4 720.1L282.8 720.6L283.7 720.2L287.6 720.5L289.1 720L289.9 720.3L290.6 719.9L291.3 720.5L292 720.6L293.4 720L294.3 720.3L297.1 719.8L299 720.1L299.9 720.6L302.7 719.5L303.6 720.4L305.5 720.3L306.4 719.5L307.4 720.6L308.3 720.3L309.2 719L311.1 720.3L313 719.3L315.8 719.9L316.7 719.1L317.6 719.5L318.6 719L320.4 719.6L321.4 718.5L322.3 719.5L323.2 719L324.2 719.5L325.1 719.2L327 719.4L329.8 717.6L330.7 717.8L331.6 718.8L332.6 717.6L333.5 718.2L334.4 717.1L335.4 719.3L336.3 717.2L337.2 718.7L338.2 717.2L339.1 718.4L340 717.2L341.9 719.4L343.8 717.8L344.7 717.4L345.6 719.4L346.6 718.3L349.4 716.6L351.2 718.2L352.2 716.1L353.1 716.7L354 715.2L355 716.6L355.9 715.1L356.8 716.7L357.8 715.2L358.7 715.3L359.6 714.6L360.6 716.2L361.5 715L362.4 715.7L364.3 713.4L365.2 710.1L366.2 713.8L367.1 712.6L368 713.2L369 711.6L369.9 712.3L370.8 711.2L371.8 711.9L372.7 708.7L373.6 709.9L374.6 714.2L375.5 710.9L376.4 711L377.4 714.2L378.3 711.9L379.2 711L380.2 711.1L381.1 709.4L382 712.2L383 707.8L383.9 707.4L385.8 708.5L386.7 707.6L387.6 708L388.6 705L389.5 705.7L390.4 702.8L391.4 706.4L392.3 702.9L393.2 706L394.2 704.9L395.1 706L396.1 702.9L397 703.5L398.9 700L399.8 702.2L401.7 699.7L402.6 700.9L403.5 701.3L404.5 699.3L407.3 697.2L408.2 699.2L410.1 695.2L411 697.4L411.9 695.7L412.9 696.7L413.8 695.1L414.7 692.4L416.6 695.4L417.5 693.1L418.5 692.8L419.4 691.3L420.3 694L422.2 691.6L423.1 692.8L424.1 689.4L425 692.4L425.9 690.8L426.9 691L428.7 688.2L430.6 687.6L431.5 687.6L432.5 689.1L433.4 687.4L434.3 688.3L435.3 687.4L438.1 686.5L439 686.7L439.9 686.1L444.6 686.3L445.5 686.1L446.5 686.6L447.4 686.4L450.2 686.9L451.1 687.6L452.1 687L453.9 688L454.9 687.9L456.7 690.4L457.7 689.9L458.6 690.1L459.5 688.3L460.5 691L461.4 690.4L462.3 691.1L463.3 690.4L464.2 692.9L465.1 692.9L467 695.6L467.9 696.4L468.9 696.8L469.8 695.2L470.7 697L471.7 698.2L472.6 698.7L473.5 700L477.3 701.3L478.2 704.5L479.1 703.4L480.1 703L481 705.9L483.8 706.1L485.7 708.5L487.5 708.8L488.5 709.9L489.4 709.4L491.3 712.5L494.1 713.5L495 713.6L495.9 714.2L496.9 714L497.8 714.8L498.7 715L499.7 716.3L501.5 716.4L505.3 718L506.2 717.7L508.1 718.8L520.2 720.2L542.6 720.6L891.9 720.6" stroke="#2ca02c" stroke-width="6.07" stroke-linecap="square"/>
<path d="M303.6 718.9V720.6M304.6 719.3V720.6M305.5 719.5V720.6M306.4 718.6V720.4M308.3 719.5V720.6M309.2 717.9V720.1M310.2 718.6V720.5M311.1 719.3V720.6M312 718.8V720.6M313 716.9V720.4M313.9 717.8V720.3M314.8 718.7V720.6M315.8 718.7V720.6M316.7 717.8V720.6M317.6 718.5V720.5M318.6 717.7V720.2M319.5 717.4V720.6M320.4 718.5V720.6M321.4 716.6V719.7M322.3 717.2V720.6M323.2 717.2V720.2M324.2 718.3V720.6M325.1 717.8V720.4M326 717.5V720.6M327 718.2V720.6M327.9 716.6V720.1M328.8 716.6V719.3M329.8 714.6V720M330.7 716.1V719.7M331.6 717.2V720.6M332.6 716.1V718.9M333.5 715.4V720.2M334.4 715.3V718.6M335.4 716.5V720.6M336.3 715V719.6M337.2 717.1V720.6M338.2 715.3V719.2M339.1 716.4V720.6M340 715.6V720.6M341 716.4V720.6M341.9 717.2V720.6M342.8 716.1V720.5M343.8 715.6V719.8M344.7 714V719.4M345.6 717.5V720.6M346.6 715.6V720.6M347.5 715.9V719.6M348.4 713.9V720.6M349.4 712.6V719M350.3 714.9V719.5M351.2 715V720.4M352.2 714.1V718.8M353.1 714.5V719.4M354 711.9V717.4M355 714.1V719M355.9 711.2V717.3M356.8 713.7V720.5M357.8 712.7V718.1M358.7 712.8V718.3M359.6 712V717.3M360.6 713.3V719.9M361.5 710.7V718.8M362.4 712V719.1M363.4 711V717.3M364.3 710V715.9M365.2 705.6V713M366.2 709.5V717.7M367.1 709.2V715.5M368 709.9V717.2M369 708.7V714.3M369.9 708V715M370.8 708.4V714.4M371.8 708.7V714.8M372.7 705.1V711.5M373.6 707.1V713.5M374.6 710.7V717.6M375.5 708.1V713.9M376.4 706.1V714M377.4 710V718.1M378.3 708.8V715.3M379.2 706.9V715.7M380.2 707.1V716.3M381.1 705.9V713.3M382 708.3V716.7M383 704.3V711.5M383.9 703.3V713.1M384.8 703.9V711.8M385.8 705.2V715M386.7 701.9V710.8M387.6 703.5V714.3M388.6 701.6V710.6M389.5 699.7V709.8M390.4 699.4V706.8M391.4 701.8V710.5M392.3 699V710.3M393.2 701.9V709.7M394.2 701.1V708.9M395.1 702.7V710.4M396.1 698.4V707.1M397 695.9V708.9M397.9 696.7V707.2M398.9 695.2V704.1M399.8 697.4V705.5M400.7 696.5V706.5M401.7 696.2V704.1M402.6 697.2V706.5M403.5 697.1V704.6M404.5 694.4V705.3M405.4 694.5V702.1M406.3 693V702.5M407.3 690.8V700.2M408.2 695.5V704.5M409.1 689.3V701.6M410.1 692.2V699.5M411 694.2V700.6M411.9 691.8V699.7M412.9 691.1V699.6M413.8 687.9V699.5M414.7 689.1V696.2M415.7 690.4V697.2M416.6 691.9V700.5M417.5 689.7V696.1M418.5 687.4V695.5M419.4 688.7V695.3M420.3 691.3V696.9M421.3 690.6V695.3M422.2 689.2V694.1M423.1 690.1V695M424.1 686.6V692.2M425 690.1V695.9M425.9 688.6V692.9M426.9 688.8V693.4M427.8 687.3V691.9M428.7 686.4V691.3M429.7 686.5V691.3M430.6 686.2V689.2M431.5 686V689.6M432.5 687.7V690.3M433.4 686.2V689.3M434.3 686.8V690.3M435.3 685.3V688.5M436.2 686V688.5M437.1 686.1V688.3M449.3 685.7V687.6M450.2 685V687.8M451.1 686.3V688.5M452.1 685.8V688.1M453 685.9V689.4M453.9 686.5V691.1M454.9 686.6V689.5M455.8 687.7V691.3M456.7 688.6V692.3M457.7 687.5V692.3M458.6 687.7V691.6M459.5 686.2V690.1M460.5 689.4V693.4M461.4 687.9V692.8M462.3 688.8V693.8M463.3 688.4V694.1M464.2 690.9V695M465.1 690.1V697M466.1 692.5V697.2M467 693V698.9M467.9 694.3V698.5M468.9 693.7V699.1M469.8 692.1V698.4M470.7 694.7V699.2M471.7 696.2V701.6M472.6 693.8V702.8M473.5 697.9V701.9M474.5 698V702.2M475.4 698.8V703M476.3 698.9V703.6M477.3 697.9V705.5M478.2 702.2V709.4M479.1 701.5V705.3M480.1 700.4V705.3M481 703V708.1M481.9 703.9V707.7M482.9 704.3V710.2M483.8 703.2V708.3M484.7 704.5V709M485.7 706.8V712.3M486.6 706.2V711.7M487.5 707.2V711.3M488.5 707.4V711.5M489.4 708.1V712.9M490.3 709.6V712.3M491.3 709.4V713.8M492.2 711.4V714.1M493.1 711.9V714.6M494.1 712V715.5M495 711.3V714.8M495.9 713.2V716.7M496.9 711.7V715.3M497.8 713.8V716.3M498.7 714.2V715.8M499.7 714.5V717.1M500.6 715.8V717.3" stroke="#2ca02c" stroke-width="6.07" stroke-linecap="round"/>
<path d="M201.6 719.1L206.1 720.5L210.2 718.5L214 720.2L217.5 718.7L220.7 719.4L223.8 718.5L229.3 720.6L231.9 720L234.3 720.6L236.6 718.3L240.9 719.1L242.9 718.5L244.8 718.7L246.7 719.4L248.4 716.8L250.2 718.5L251.8 718.9L253.4 720.2L256.5 718.5L259.3 718.9L260.7 718.3L262 719.5L263.3 718.1L264.6 719.8L265.8 719L267 718.8L268.1 716.9L270.4 717.7L271.5 719L273.6 716.7L274.6 716.1L275.6 719.2L277.5 717.2L278.4 716.9L279.3 717.2L280.2 716.4L281.1 718.9L282 715.2L282.8 718.4L283.7 716.9L285.3 715.4L286.9 715.6L287.6 715.1L288.4 716.8L289.9 714.5L290.6 717.3L291.3 718.1L292 717.5L292.7 714.5L293.4 714.6L294.3 716.5L297.1 714.5L298 718.1L299 716.4L300.8 715.1L302.7 715.7L303.6 714.8L304.6 718.4L305.5 711.1L306.4 713.9L307.4 713.7L308.3 715.6L310.2 711.9L311.1 712.1L313 715.8L313.9 713.9L314.8 714.4L315.8 712.8L316.7 715.4L317.6 713.9L318.6 713.2L319.5 714.1L320.4 712L321.4 714.7L322.3 714.7L324.2 711.8L325.1 713.1L326 713.4L327 711.5L328.8 712.9L329.8 712L330.7 712.3L331.6 711.1L332.6 711.5L333.5 712.6L335.4 711.8L336.3 710.7L337.2 710.6L338.2 711.9L341 709.2L341.9 710.1L342.8 708L343.8 710.1L344.7 709.1L346.6 710.8L347.5 709.4L348.4 708.8L350.3 708.9L352.2 709.6L355 707.4L355.9 711.4L356.8 707.5L358.7 706.6L359.6 707.3L360.6 706.9L361.5 707.8L363.4 706.6L364.3 707.9L365.2 707.5L366.2 706.5L367.1 707.6L368 706.4L369 707.4L369.9 706L372.7 706.4L373.6 706L374.6 706.9L375.5 705.7L377.4 704.6L378.3 705.4L379.2 705.1L380.2 704.3L381.1 704.1L382 705L383 704.3L383.9 704.2L385.8 704.8L386.7 704.7L388.6 703.7L389.5 704.3L391.4 703.8L392.3 704.3L394.2 703.9L399.8 703.9L401.7 704.3L403.5 703.9L404.5 704.3L407.3 704.5L410.1 705.2L411 705L411.9 704.2L412.9 705.1L413.8 705.1L414.7 704.3L415.7 705.7L416.6 706.1L417.5 705.5L418.5 706.5L420.3 705.7L421.3 707L422.2 706.9L423.1 705.9L424.1 707.6L425.9 707.3L427.8 708.4L428.7 707.2L429.7 708.8L430.6 708.4L431.5 709.1L432.5 709.3L433.4 710.3L434.3 709.1L435.3 710.2L436.2 709.4L437.1 711.2L439 710.7L440.9 711.9L441.8 711.9L442.7 712.9L443.7 712.3L444.6 714.2L445.5 712.8L446.5 712.4L448.3 713.3L449.3 714.2L450.2 714L451.1 714.7L453 715.1L453.9 716.8L454.9 715.1L456.7 715.6L457.7 716.6L458.6 716.2L459.5 716.5L460.5 717.7L461.4 717.7L462.3 717.3L465.1 718L466.1 717.6L467 718.7L471.7 718.9L472.6 719.3L476.3 719.2L482.9 720.2L514.6 720.6L891.9 720.6" stroke="#9467bd" stroke-width="6.07" stroke-linecap="square"/>
<path d="M201.6 717.6V720.6M206.1 718.4V720.6M210.2 716.1V720.2M214 718.5V720.6M217.5 716.7V720.5M220.7 717.4V720.6M223.8 715.9V720.6M226.6 717.6V720.6M229.3 715.3V720.6M231.9 717.9V720.6M234.3 718.7V720.6M236.6 715.6V720.6M238.8 715.7V720.6M240.9 716.3V720.6M242.9 715.8V720.6M244.8 716.7V720.6M246.7 714.5V720.6M248.4 714.7V719.1M250.2 716V720.6M251.8 716.6V720.6M253.4 717V720.6M255 716.8V720.6M256.5 712.3V720.6M257.9 716.4V720.6M259.3 716.4V720.6M260.7 712.2V720.6M262 716.8V720.6M263.3 715.5V720.6M264.6 717.4V720.6M265.8 715.3V720.6M267 713V720.6M268.1 714.2V720.6M269.3 713V719.6M270.4 715.4V720.3M271.5 715.8V720.6M272.5 715.4V720.6M273.6 711.6V719.6M274.6 713.5V719.2M275.6 713.4V720.6M276.5 713.2V720.6M277.5 714.9V720.6M278.4 713.4V720M279.3 714.5V719.7M280.2 713.2V719.9M281.1 716.3V720.6M282 712.3V719.4M282.8 715.5V720.6M283.7 713.1V720.3M284.5 712.8V719.3M285.3 711.7V718.2M286.1 712.9V720.4M286.9 711.7V720M287.6 712.5V719.2M288.4 712.9V720M289.1 712.6V718.1M289.9 711.9V718.9M290.6 712.1V720.6M291.3 714V720.6M292 714V720.6M292.7 710.6V717.8M293.4 710.5V717.3M294.3 712.8V719.1M295.2 712.4V718.5M296.2 711.8V718.2M297.1 710.6V718M298 715.3V720.6M299 713V719M299.9 713.1V719.9M300.8 712.1V717.9M301.8 711.8V719.2M302.7 713.1V718.3M303.6 711.3V718.5M304.6 715.1V720.6M305.5 705.6V717.4M306.4 711.3V717.7M307.4 710V716.2M308.3 712.6V718.4M309.2 710.5V717M310.2 709.3V714.4M311.1 708.2V715M312 710.4V718.4M313 711.3V718.5M313.9 707.6V717.7M314.8 711.1V717.6M315.8 710.2V715.5M316.7 711.9V719.8M317.6 708.1V719.4M318.6 709.6V716.2M319.5 710.5V716.8M320.4 705V716.4M321.4 709.7V720.6M322.3 710.7V718.1M323.2 709.8V716M324.2 709.1V714.9M325.1 710.6V716.4M326 710.5V715.9M327 708.7V714.4M327.9 705V715.1M328.8 709.9V716.1M329.8 707.2V715M330.7 707.6V716.5M331.6 706.3V713.6M332.6 708.8V714.3M333.5 709.8V715M334.4 706.6V715.2M335.4 709V718.7M336.3 708.3V713.1M337.2 707.8V714.6M338.2 707.9V714.6M339.1 708.4V715.6M340 707.6V712.6M341 705.2V711.6M341.9 706V712.9M342.8 704.9V714.5M343.8 706.3V712.4M344.7 706.7V711.6M345.6 707.8V712.8M346.6 706.8V713.6M347.5 706.8V712M348.4 705.5V711.8M349.4 705.4V712.6M350.3 702.9V711.1M351.2 705.7V711.6M352.2 707.6V712M353.1 705.8V711.4M354 706V710.2M355 705.4V709.5M355.9 709.2V713.4M356.8 703V709.7M357.8 703.3V708.8M358.7 704.2V709.7M359.6 704.1V710.6M360.6 704.9V709.8M361.5 705.7V710.7M362.4 703.8V709.4M363.4 704V708.3M364.3 706.2V710.9M365.2 703.9V710M366.2 703.4V708.5M367.1 706V709.8M368 704.3V709.4M369 705.8V711.5M369.9 704V707.4M370.8 704V707.9M371.8 704.9V708.3M372.7 705.2V710.1M373.6 704.2V707.3M374.6 705.7V709M375.5 702.4V707.7M376.4 703.9V707.3M377.4 703.1V706.1M378.3 704.2V706.6M379.2 704V706.9M380.2 703.3V705.3M381.1 702.3V705.7M382 704.1V706.3M383 703.5V705.5M383.9 703.3V705.1M384.8 703.5V705.7M411 704.1V705.7M411.9 703.4V705.7M412.9 703.8V706M413.8 703.9V706.3M414.7 703.2V705.5M415.7 703.5V707.2M416.6 705V707.3M417.5 704.4V706.4M418.5 705.4V707.7M419.4 704.3V707M420.3 704.5V706.8M421.3 705.6V709.1M422.2 705.4V708.7M423.1 703.9V707.2M424.1 705.6V709.2M425 706.2V708.8M425.9 706.1V710.4M426.9 706.5V709.2M427.8 707.2V710M428.7 705.8V709M429.7 707V710.6M430.6 705.8V711.4M431.5 706.8V712.1M432.5 707.7V711M433.4 708V712.7M434.3 707.9V710.6M435.3 708.4V711.8M436.2 708V710.8M437.1 709.6V712.4M438.1 709.7V712.4M439 708.4V714.2M439.9 709.1V713.2M440.9 710.6V713.2M441.8 710V713.1M442.7 710.1V714.8M443.7 710.6V714.2M444.6 712.6V715.7M445.5 711.6V714M446.5 710.6V715.6M447.4 711.8V714.4M448.3 711.5V715M449.3 713V715.4M450.2 712.9V715.3M451.1 713V715.9M452.1 713.2V715.8M453 714.1V716.9M453.9 715V717.8M454.9 714.1V716.2M455.8 714.7V717M456.7 714.7V717.1M457.7 715.8V717.4M458.6 715.4V717M459.5 715.1V717.3M460.5 716.5V718.4M461.4 716.9V718.4" stroke="#9467bd" stroke-width="6.07" stroke-linecap="round"/>
<path d="M201.6 720.6L341 720.6L357.8 720.3L360.6 720.5L364.3 720L367.1 720.4L369 720.3L369.9 719.9L371.8 720.2L373.6 719.7L374.6 720.2L375.5 719.8L376.4 720.2L380.2 719.6L381.1 719.2L383.9 719.9L386.7 719.2L387.6 719.3L388.6 718.3L389.5 718.3L390.4 718.8L391.4 718.8L394.2 718.1L395.1 719L396.1 718.1L397 718.9L397.9 717.4L398.9 716.7L399.8 717.9L400.7 716.6L401.7 717.1L402.6 716.9L403.5 714.2L404.5 714.9L405.4 715L406.3 715.7L407.3 714.4L408.2 714.8L409.1 713.7L410.1 715L411 713.6L411.9 713.6L412.9 714.6L413.8 709.8L414.7 710.6L415.7 712.5L416.6 713.1L417.5 711.5L418.5 711.1L419.4 710.2L420.3 711.2L422.2 707.3L423.1 706L424.1 709.9L425 705.4L425.9 706.6L426.9 706L427.8 703.8L428.7 703.8L429.7 700L430.6 699.1L431.5 700.5L432.5 700.4L433.4 693.9L434.3 692.7L435.3 695.2L436.2 695.5L437.1 691.7L438.1 689.5L439 693.3L439.9 686.5L440.9 690.2L441.8 686L442.7 688.9L443.7 686.3L444.6 686.5L446.5 680.5L447.4 684L449.3 678.2L450.2 679.4L451.1 672.4L452.1 679.3L453 669.1L453.9 675.1L454.9 670.4L455.8 668L456.7 669.1L457.7 671.9L458.6 668.7L460.5 665L463.3 660.8L464.2 663.6L465.1 660L466.1 662.7L467 659.6L467.9 660.2L468.9 660.2L469.8 657L470.7 657.3L471.7 656.1L472.6 657.3L474.5 655.8L476.3 655.3L480.1 655.1L481.9 656L482.9 655.6L485.7 657L486.6 658L487.5 658.4L488.5 660.8L490.3 661.6L491.3 660.9L492.2 660.8L493.1 663.2L494.1 664.2L495 663.7L495.9 666.4L496.9 666.3L497.8 667.6L498.7 670.9L499.7 670.1L500.6 671.4L501.5 674.3L503.4 676.9L504.3 674.8L505.3 675.1L506.2 678.2L507.1 678.4L508.1 683.2L509 681.2L509.9 681.8L510.9 683.5L511.8 687.7L512.7 686.7L513.7 689.2L514.6 689.2L515.5 692.2L516.5 692.7L517.4 694.4L518.3 694.5L519.3 696.2L520.2 696.2L523.9 701.5L525.8 702.7L526.7 704L529.5 706.7L531.4 709.2L532.3 708.6L533.3 709.4L534.2 710.8L535.1 710.1L536.1 712L537 711.8L537.9 712.6L539.8 713.4L543.6 715.8L545.4 715.9L547.3 716.9L554.8 718.9L565 720.1L583.7 720.6L891.9 720.6" stroke="#7f7f7f" stroke-width="6.07" stroke-linecap="square"/>
<path d="M382 718.3V720.2M383 718.5V720.6M383.9 718.9V720.6M384.8 718.7V720.6M385.8 718.4V720.6M386.7 717.8V720.2M387.6 717.6V720.3M388.6 717V720.6M389.5 717.1V720M390.4 716.9V720.6M391.4 717.3V720.2M392.3 715.8V720.1M393.2 716.7V719.9M394.2 716.2V720.6M395.1 716.1V720.6M396.1 715.8V719.4M397 716.2V720.5M397.9 714.9V719.3M398.9 712.3V718.9M399.8 715.3V720.2M400.7 714.6V719.6M401.7 714.7V719.2M402.6 715V719.2M403.5 712.1V716.5M404.5 711.8V717.4M405.4 711.2V717.7M406.3 713.3V717.9M407.3 712V717.9M408.2 712.3V718M409.1 711.2V716.1M410.1 711.4V718M411 710.1V716.5M411.9 710.4V716.2M412.9 710.9V718.3M413.8 706.9V713.2M414.7 704.2V713.4M415.7 709.4V720.6M416.6 707.4V716.2M417.5 707.9V717.5M418.5 707.4V716.1M419.4 706.8V713.9M420.3 705.9V716.3M421.3 705.1V713.4M422.2 702.5V711.3M423.1 701.8V712.2M424.1 703.6V714.1M425 700.5V710.4M425.9 702.6V713.2M426.9 701.8V710.4M427.8 699.8V708.2M428.7 699.5V708.6M429.7 695.8V705.9M430.6 693.4V703.7M431.5 693.4V706.7M432.5 695.1V704.9M433.4 687.5V699.8M434.3 688V697.7M435.3 686.8V700.1M436.2 689.3V701.3M437.1 686.1V696.2M438.1 684.9V697.6M439 685.4V698.2M439.9 680V692.9M440.9 684.3V697.2M441.8 677.6V692.2M442.7 677V694.1M443.7 680.8V692.9M444.6 678.1V693M445.5 677.3V697.7M446.5 674.1V685.6M447.4 679.1V689.8M448.3 675V686M449.3 668.7V683.7M450.2 674.1V688M451.1 666.4V678.4M452.1 671.3V684.2M453 663.6V675.1M453.9 664.6V680.9M454.9 665.3V678.8M455.8 662.4V673.3M456.7 664.4V673.5M457.7 667.8V676.7M458.6 665V672.7M459.5 658.6V671.6M460.5 657.7V671M461.4 658V668.3M462.3 657.9V669.4M463.3 657.9V665.1M464.2 660.6V666.4M465.1 656V663M466.1 659.4V666.3M467 657.4V662.6M467.9 658.2V662.8M468.9 658V662.4M469.8 654.5V660M470.7 655.2V659.1M471.7 653.9V657.5M472.6 655.7V659.3M473.5 655.4V657.8M474.5 655V656.8M482.9 654.8V656.7M483.8 654.8V657.2M484.7 655.1V657.8M485.7 655V658.6M486.6 656.4V659.7M487.5 656.8V660M488.5 658.7V662.9M489.4 659.3V663.2M490.3 659.6V663.9M491.3 658.9V662.9M492.2 658.1V662.8M493.1 661V666.4M494.1 661.6V667.4M495 661.2V665.8M495.9 664.2V669M496.9 663.7V669.4M497.8 665.1V669.9M498.7 667.9V675.4M499.7 663.2V673.7M500.6 667.5V674M501.5 671.3V677.7M502.5 672.8V677.9M503.4 673.9V679.4M504.3 671.8V677.2M505.3 672.4V677.9M506.2 675.1V681.6M507.1 674.9V680.8M508.1 680.9V686.4M509 678.4V684.1M509.9 677.9V684.2M510.9 680.7V688.6M511.8 685.4V690.7M512.7 684.3V689M513.7 686.9V692.5M514.6 686.3V692.2M515.5 689.4V694.4M516.5 687.2V696.1M517.4 691.3V697.2M518.3 690.6V699.7M519.3 692.3V699.1M520.2 694.3V698.4M521.1 695.9V699.9M522.1 695.3V700.7M523 698.4V702M523.9 699.4V703.8M524.9 700.7V703.8M525.8 700.9V704M526.7 702.2V705.4M527.7 702.1V706.2M528.6 704.3V707.5M529.5 704.9V707.9M530.5 706.3V710M531.4 707.9V710.9M532.3 707.4V710M533.3 708.4V710.5M534.2 709.7V713.3M535.1 709.3V711M536.1 711.1V712.9M537 710.6V712.9M537.9 711.9V713.8" stroke="#7f7f7f" stroke-width="6.07" stroke-linecap="round"/>
<path d="M201.6 720.6L282.8 720.6L287.6 720.4L288.4 720.6L296.2 720.6L299 720.3L299.9 720.5L305.5 720.6L307.4 720.3L308.3 720.6L313.9 719.9L316.7 720.4L317.6 719.9L319.5 720.3L321.4 720L324.2 720.1L325.1 720.5L326 719.3L327.9 719.3L328.8 719.9L331.6 719.3L332.6 720.6L333.5 719.4L334.4 720.1L335.4 719.5L336.3 719.8L337.2 718.4L339.1 719.3L340 718.3L341 719.1L341.9 719.5L342.8 719.1L343.8 719.1L345.6 718L346.6 718.6L347.5 718.5L348.4 717.4L349.4 717.9L350.3 717.2L351.2 717.8L352.2 719.2L353.1 718.9L354 719.4L355 716.1L357.8 718.1L358.7 716.2L359.6 716.6L360.6 715.8L361.5 717.3L362.4 717.5L363.4 713.2L364.3 716.8L366.2 712.6L367.1 717.7L368 713L369 713.8L369.9 713.9L370.8 712.8L372.7 717.1L373.6 708.3L374.6 712.5L375.5 709.5L376.4 708.6L377.4 710L379.2 708L380.2 705.3L381.1 707.5L382 705L383 708.5L383.9 708.3L384.8 706.4L386.7 703.9L387.6 699.1L389.5 703.3L390.4 696.7L391.4 701L393.2 699L395.1 702.6L396.1 697.8L397.9 699.5L398.9 695.3L400.7 696L401.7 699.3L403.5 684.8L404.5 686.9L405.4 685.2L406.3 688.2L407.3 683.3L408.2 688.5L409.1 686.7L410.1 682.1L411 688L411.9 681.6L412.9 679.7L413.8 673.7L414.7 681L415.7 676L416.6 678.6L417.5 677.1L418.5 683.1L420.3 668.4L421.3 669.4L422.2 669.4L423.1 661.6L425 670.3L425.9 666.4L426.9 665.1L427.8 660.1L428.7 665.2L429.7 661.3L430.6 659.4L431.5 662.2L432.5 659.7L433.4 662.6L434.3 658.4L435.3 661L437.1 655L438.1 656.1L439 656L439.9 655.6L440.9 654.4L441.8 655.1L442.7 654.9L446.5 655.4L447.4 655.9L448.3 655.2L449.3 655.7L451.1 657.7L452.1 661.2L453 659.1L453.9 658.6L454.9 658.8L455.8 665.8L456.7 665.8L457.7 662.3L458.6 665.6L459.5 665.1L460.5 666.8L461.4 665.8L462.3 672.3L464.2 668.8L466.1 675.5L467 674L467.9 675.8L468.9 680L469.8 677.9L470.7 679.4L471.7 682.7L472.6 681.8L473.5 688L474.5 685.3L476.3 691.8L477.3 692.5L478.2 690.5L479.1 695.2L480.1 696.2L481.9 699.6L482.9 697.9L483.8 697.2L485.7 702.4L486.6 703.2L487.5 705.8L489.4 708.8L490.3 706.8L491.3 709.6L492.2 710.9L493.1 711.6L494.1 711.6L495 712.9L496.9 713.7L497.8 713.6L498.7 715.7L499.7 715.3L500.6 716.3L501.5 716.6L502.5 716.2L504.3 717.7L507.1 718.2L508.1 718.8L512.7 719.7L521.1 720.4L536.1 720.6L891.9 720.6" stroke="#ff7f0e" stroke-width="6.07" stroke-linecap="square"/>
<path d="M326 718.4V720.5M327 718.6V720.3M327.9 718.4V720.6M328.8 718.6V720.6M329.8 718.6V720.6M330.7 718.4V720.6M331.6 717.6V720.6M332.6 719.4V720.6M333.5 718V720.6M334.4 718.9V720.6M335.4 717.5V720.6M336.3 718.8V720.6M337.2 717.2V719.8M338.2 717.6V720.5M339.1 715.9V720.6M340 716.4V720.6M341 717.1V720.6M341.9 717.8V720.6M342.8 717.5V720.6M343.8 717.7V720.6M344.7 716.8V720.3M345.6 716.4V720.3M346.6 716.9V720.5M347.5 716.4V720.6M348.4 714.7V719.5M349.4 715.4V720.6M350.3 714.8V719M351.2 714.7V720.5M352.2 716.7V720.6M353.1 716.7V720.6M354 716.4V720.6M355 713V719.5M355.9 712.9V720.6M356.8 713.7V720.6M357.8 715.6V720.6M358.7 713.7V719.2M359.6 713.4V720.6M360.6 713.1V718.6M361.5 709.4V720.3M362.4 714.7V720.6M363.4 709.1V716.5M364.3 711.1V720.6M365.2 709.5V720.6M366.2 706.9V716.9M367.1 714.3V720.6M368 703.3V716.7M369 709.6V717.9M369.9 703.7V718.1M370.8 708.4V717.7M371.8 711V720.6M372.7 709.9V720.6M373.6 704.4V714M374.6 707.6V717.6M375.5 703.9V715.9M376.4 704V712.8M377.4 702.3V715.2M378.3 700.3V714.4M379.2 703.3V712.6M380.2 698.3V713.5M381.1 700.7V718.8M382 699.6V709.9M383 700.9V720.6M383.9 700.4V715.2M384.8 697.2V712.4M385.8 695.6V710.2M386.7 697.8V711.7M387.6 693.4V709M388.6 690.3V711.3M389.5 696V713.3M390.4 689.3V705M391.4 695.2V708.2M392.3 693.8V707.8M393.2 685V709.2M394.2 693.4V716.6M395.1 693.6V712M396.1 689.2V707.1M397 689.7V710.7M397.9 690.1V706.6M398.9 686.7V703.3M399.8 686.5V704.9M400.7 684.7V704.3M401.7 692.1V707.5M402.6 682.5V702.1M403.5 677V693.6M404.5 678.1V694.7M405.4 677.6V693.2M406.3 671.9V701.1M407.3 673.6V692.7M408.2 679.6V696.5M409.1 679.1V702.5M410.1 673.7V691.5M411 681V695.8M411.9 669.8V696.7M412.9 671.6V688.1M413.8 666.3V686.8M414.7 671.6V687.7M415.7 660.5V686.4M416.6 671.8V686.7M417.5 661.4V684.6M418.5 676V693.5M419.4 670V693.8M420.3 660.2V677.9M421.3 662.2V676.6M422.2 663.4V675.2M423.1 654.6V667.4M424.1 660.6V672M425 662.5V678.2M425.9 660.2V671.4M426.9 660.2V670.3M427.8 654.5V664.8M428.7 659.2V670.4M429.7 656.9V666.1M430.6 655.4V665.2M431.5 657.2V665.9M432.5 655.5V664.5M433.4 659V668.3M434.3 654.8V661.8M435.3 656.4V664.2M436.2 654.5V661.9M437.1 652.1V659.5M438.1 653.9V657.9M439 654V658.5M439.9 654.4V658.2M440.9 651.9V656.4M441.8 654V656.2M446.5 654.6V656.1M447.4 654.4V657.2M448.3 652.3V657M449.3 653.5V657.6M450.2 652.6V658.6M451.1 654.9V660.5M452.1 657.8V663.7M453 656V661.6M453.9 655.6V666.5M454.9 655.1V663.8M455.8 662.7V671.7M456.7 662.2V669.4M457.7 658.7V668.1M458.6 659.3V669.5M459.5 658V670.2M460.5 662.2V674.9M461.4 661.3V669.8M462.3 667.3V676.7M463.3 662.2V675.3M464.2 664.6V675M465.1 667.2V677.2M466.1 669.1V679.8M467 667.1V680.1M467.9 670.8V680.4M468.9 674.9V684.5M469.8 673V685.5M470.7 673.4V683.8M471.7 673.6V690M472.6 675.4V687.4M473.5 680.5V695.8M474.5 677.2V691.9M475.4 677.1V693.1M476.3 687.7V696.7M477.3 688.6V696.8M478.2 685V695.4M479.1 688.8V699M480.1 692.7V699.8M481 694V702.1M481.9 696.2V706.9M482.9 694.2V704M483.8 693.8V700.8M484.7 696.3V705.2M485.7 698.5V707.2M486.6 700.6V706.7M487.5 702.3V708.6M488.5 702.4V710.5M489.4 705V712.7M490.3 703.5V709M491.3 706.8V712.6M492.2 708.1V714M493.1 708.6V714.9M494.1 709.8V715.5M495 711.4V715.3M495.9 711.5V714.7M496.9 712.3V715.2M497.8 712.1V714.8M498.7 713.6V717.1M499.7 714.3V716.9M500.6 715.2V717.7M501.5 715.5V717.9M502.5 715.2V717.4M503.4 716.2V717.9" stroke="#ff7f0e" stroke-width="6.07" stroke-linecap="round"/>
<path d="M201.6 720.5L220.7 720.6L223.8 720.3L236.6 720.6L240.9 719.8L242.9 720.6L244.8 720.6L246.7 720.2L248.4 718.4L250.2 720.4L251.8 719.9L253.4 720.3L256.5 718.9L257.9 720L259.3 718.9L260.7 720.6L262 719.6L263.3 720.6L264.6 719.5L265.8 720.2L267 719.3L268.1 720.6L269.3 719.2L270.4 719.3L271.5 720L273.6 720.6L275.6 718.7L276.5 719.2L277.5 718.8L278.4 717.4L279.3 719.3L281.1 717.7L283.7 718.5L284.5 715.7L285.3 718.6L286.1 719L287.6 715.7L288.4 715.9L289.1 718L289.9 716.7L291.3 717.8L292 716.7L292.7 716.6L293.4 717.4L294.3 714.4L295.2 718.1L296.2 714.7L297.1 713.1L298 712.9L299 716.4L299.9 717.2L300.8 720L301.8 716.6L302.7 711L303.6 719.8L304.6 719.6L305.5 713.9L306.4 714.3L307.4 720L308.3 715.5L309.2 714.3L310.2 718.9L311.1 712.3L312 718.2L313 711.3L315.8 718.4L316.7 714.5L317.6 713.5L318.6 713.4L319.5 714.6L320.4 713.1L321.4 709.3L322.3 714.9L324.2 709.7L325.1 711L327 704.7L327.9 711.2L328.8 708.8L329.8 720.3L330.7 710.2L331.6 705.8L332.6 712.5L333.5 702.3L334.4 714.9L335.4 701.1L336.3 708.5L337.2 710.2L338.2 707.5L339.1 706.1L340 708.9L341 710.1L341.9 705.8L342.8 698.5L343.8 700.4L344.7 695.4L345.6 704.1L346.6 702.3L347.5 701.6L349.4 696.4L350.3 689.2L351.2 693.8L352.2 695.9L353.1 689L354 699.4L355 701.5L355.9 690.3L356.8 692.2L357.8 691.7L358.7 686.6L359.6 692.6L360.6 690.6L361.5 687.1L363.4 682.1L364.3 686L365.2 684.3L366.2 698.3L367.1 677.2L368 691.8L369 682.4L369.9 667.2L370.8 682.1L371.8 688.1L372.7 669.5L373.6 680.5L374.6 677.3L375.5 676.4L376.4 670.5L377.4 669.4L378.3 673.1L379.2 665.7L380.2 675.2L381.1 666L382 671.6L383 664L383.9 669.8L384.8 667.6L385.8 657.6L386.7 668.7L387.6 667.9L388.6 659.1L389.5 661.8L390.4 661.5L391.4 659.4L392.3 649.5L393.2 660.9L395.1 654.7L396.1 657.6L397 653.7L397.9 651.3L398.9 654.8L399.8 648.3L400.7 653.7L401.7 650.4L402.6 648.6L403.5 642.1L404.5 651.7L406.3 643.4L407.3 647.8L408.2 645.3L410.1 647.2L411 645.5L411.9 646L412.9 645.5L414.7 645.4L415.7 646.2L417.5 645L419.4 646.7L421.3 647.7L422.2 643.5L423.1 648.3L424.1 648.8L425 650.9L425.9 651.2L426.9 649.6L427.8 653.3L428.7 654.8L430.6 655.7L431.5 655.3L432.5 658.3L433.4 658.7L434.3 661.6L435.3 656.7L436.2 661.6L437.1 664.2L438.1 663.6L439 666.1L439.9 672.7L441.8 664.8L442.7 670.2L443.7 669.5L444.6 677.2L445.5 681.5L446.5 680.4L447.4 675.2L448.3 684.4L449.3 685.3L450.2 680.9L451.1 686.6L452.1 688L453 687.8L454.9 692.7L455.8 692.6L456.7 696.6L458.6 695.9L459.5 701.2L460.5 700.5L461.4 703.7L462.3 701L463.3 702.4L464.2 703L466.1 705.1L467 706.7L467.9 709.9L468.9 708.4L469.8 711.7L470.7 708.5L471.7 711.7L472.6 712.1L473.5 714.6L474.5 713.1L475.4 713.7L476.3 716.4L477.3 716.1L479.1 717L480.1 716.3L481 716.3L481.9 718.2L482.9 717.6L483.8 718.4L484.7 718.1L485.7 719.5L487.5 718.9L488.5 719.5L489.4 719.3L490.3 719.8L491.3 719.6L494.1 720.2L509.9 720.6L891.9 720.6" stroke="#d62728" stroke-width="6.07" stroke-linecap="square"/>
<path d="M231.9 719.4V720.6M238.8 719.5V720.6M240.9 718.9V720.6M242.9 719V720.6M244.8 718.6V720.6M246.7 718.8V720.6M248.4 717V719.5M250.2 718.2V720.6M251.8 718.2V720.6M253.4 719V720.6M255 717.2V720.6M256.5 717.3V720.6M257.9 718V720.6M259.3 716.9V720.6M260.7 718.4V720.6M262 718V720.6M263.3 716.6V720.6M264.6 717.4V720.6M265.8 717.3V720.6M267 717.5V720.6M268.1 718.7V720.6M269.3 717.2V720.6M270.4 717.2V720.6M271.5 717.4V720.6M272.5 714.5V720.6M273.6 717.3V720.6M274.6 717.2V720.6M275.6 714.2V720.6M276.5 716.3V720.6M277.5 716V720.6M278.4 714.5V720.2M279.3 715.8V720.6M280.2 715.7V720.6M281.1 715.2V720.6M282 713.6V720.6M282.8 714.8V720.6M283.7 711.8V720.6M284.5 712.1V720.6M285.3 715.5V720.6M286.1 716V720.6M286.9 714V720.6M287.6 712.2V718.6M288.4 712.2V720M289.1 714.5V720.6M289.9 712.1V720.6M290.6 713.4V720.6M291.3 712.5V720.6M292 713.3V720.6M292.7 708.5V720.6M293.4 713.6V720.6M294.3 709.6V719.8M295.2 713.3V720.6M296.2 711.1V720.6M297.1 706.5V718.6M298 708.2V717.5M299 712V720.6M299.9 712.6V720.6M300.8 713.9V720.6M301.8 712.6V720.6M302.7 701.2V715.2M303.6 714.4V720.6M304.6 714.6V720.6M305.5 707.9V719.5M306.4 708.1V720.6M307.4 715.5V720.6M308.3 704.5V720.6M309.2 709.3V719.1M310.2 713.1V720.6M311.1 705.1V717.5M312 710.7V720.6M313 697V717M313.9 706V720.6M314.8 708.4V720.6M315.8 710.4V720.6M316.7 708.4V720.6M317.6 704.3V720.6M318.6 704.9V719.2M319.5 707.5V720.6M320.4 695.8V720.6M321.4 702.2V716.1M322.3 707.7V720.6M323.2 701.5V719.4M324.2 698.5V720.6M325.1 703V717.9M326 700.7V714.3M327 696.5V714.6M327.9 703.2V718.6M328.8 698V720.6M329.8 709.8V720.6M330.7 701.7V720.6M331.6 698.1V713.3M332.6 702.2V720.6M333.5 692.5V714.8M334.4 705.2V720.6M335.4 691.8V716.8M336.3 700.7V720.4M337.2 701.1V720.6M338.2 697.9V716.6M339.1 682.3V715.3M340 700.6V720.3M341 701.3V719.1M341.9 696.3V715.8M342.8 687.7V710.8M343.8 691.1V710.2M344.7 685V707.5M345.6 693.5V718.4M346.6 692.2V712.7M347.5 691.1V719.9M348.4 683.3V709.9M349.4 685.7V708.3M350.3 676.8V699.6M351.2 679.7V710.7M352.2 685V713.5M353.1 678.6V709M354 689.6V712.5M355 686.6V719.3M355.9 679.1V702.6M356.8 673.9V704M357.8 679.5V708.5M358.7 670.2V697.6M359.6 676.9V706M360.6 676V702.2M361.5 667.5V698.7M362.4 674.3V699.4M363.4 671.5V697.8M364.3 675.2V708.5M365.2 671.7V696.3M366.2 686.3V710.9M367.1 660.9V691M368 675.7V707.1M369 670.7V705.1M369.9 649.6V677.5M370.8 668.3V701.5M371.8 672.8V699.9M372.7 652.6V685.3M373.6 669.7V693.6M374.6 665.4V688.3M375.5 661.9V691.9M376.4 659.1V681.2M377.4 656.7V679.3M378.3 658.1V686.5M379.2 646.7V679.1M380.2 661.6V686.8M381.1 638.4V684.5M382 661.5V682M383 653.9V674.3M383.9 660V683.3M384.8 657V679M385.8 637V667.6M386.7 658.4V677.6M387.6 659.1V676.9M388.6 648.6V669.6M389.5 653.4V684.9M390.4 651.3V671.8M391.4 647.1V671.4M392.3 637.1V661.5M393.2 650V668.2M394.2 646.8V664.1M395.1 641.7V662.1M396.1 641.7V664.8M397 641V670.6M397.9 641.3V658M398.9 645.5V661.3M399.8 638.2V654.8M400.7 641.9V659.7M401.7 644.3V658.3M402.6 644.2V655.9M403.5 637.1V646.2M404.5 646.6V656.9M405.4 643.8V654.3M406.3 638.6V648.1M407.3 643.9V650.7M408.2 643V650.6M409.1 643.1V648.7M410.1 644.9V649.2M411 643.9V647.2M411.9 644.7V647M416.6 644.8V647.6M417.5 643.4V646.7M418.5 642.8V647.3M419.4 644.7V649M420.3 644V650.9M421.3 642.8V652.3M422.2 635.9V647.5M423.1 645.1V653.6M424.1 643.1V652.7M425 644.6V658.4M425.9 646.1V658.8M426.9 644.5V655.7M427.8 645.9V657.8M428.7 646.5V661M429.7 648.9V669.4M430.6 650.1V661.4M431.5 644V665.7M432.5 651.3V667.2M433.4 652.2V669.5M434.3 654.2V671.4M435.3 649.2V663M436.2 651V668.5M437.1 656.9V671.4M438.1 657.3V670.2M439 657.1V674.6M439.9 665.3V680M440.9 653.2V678M441.8 657.4V673.5M442.7 661.4V678.6M443.7 660.8V684.1M444.6 669.8V685.1M445.5 674.6V697.3M446.5 666.6V687.2M447.4 668.4V686.3M448.3 675.1V691.1M449.3 675.1V695.9M450.2 666.1V687.3M451.1 678V694.1M452.1 680.5V694.7M453 677.7V694.1M453.9 682.8V696.6M454.9 682.8V698.9M455.8 687.2V700.8M456.7 689.5V701.8M457.7 690.4V706.2M458.6 691V702.1M459.5 696V706M460.5 691.5V704.7M461.4 699.1V708.9M462.3 695.9V705.3M463.3 698.6V708.8M464.2 698.3V707.9M465.1 697.5V708.9M466.1 697.7V708.3M467 699.1V712.6M467.9 705.9V713.8M468.9 705.3V711.3M469.8 709.2V715.1M470.7 705.6V711.2M471.7 708.2V716.4M472.6 709.7V717.2M473.5 712.1V716.6M474.5 710.7V715.6M475.4 710.3V715.7M476.3 714.7V718.5M477.3 714.3V717.9M478.2 715.3V717.8M479.1 715V718.7M480.1 715.2V717.5M481 715.4V718.1M481.9 717V719.4M482.9 715.5V718.4M483.8 717.6V719.4" stroke="#d62728" stroke-width="6.07" stroke-linecap="round"/>
<path d="M201.6 720.6L206.1 716.6L210.2 706.9L214 712.7L217.5 715.4L220.7 699.5L223.8 709L226.6 720.6L229.3 717.2L231.9 703.4L234.3 702.5L236.6 703.9L238.8 702.9L240.9 713.4L242.9 705.1L244.8 715.1L246.7 711.2L248.4 711.4L250.2 710.2L251.8 704.6L253.4 702.9L255 708.2L256.5 688.4L257.9 703.6L259.3 682.5L260.7 687.4L262 709.9L263.3 687.4L264.6 710.8L265.8 680.3L269.3 717.3L270.4 697.7L271.5 707.4L272.5 680.6L273.6 705.3L275.6 685.6L276.5 690.2L277.5 687L278.4 692L279.3 680.9L280.2 698.4L281.1 681.6L282 700.4L282.8 684.8L283.7 698.7L286.1 671.3L286.9 703.9L287.6 692.2L288.4 693.9L289.1 669.6L289.9 691.8L290.6 674.2L292 696.6L292.7 679.2L293.4 692.3L294.3 671.3L295.2 669.6L296.2 663.5L297.1 688.3L298 659.5L299 665.4L299.9 694.5L300.8 650.6L301.8 655.7L302.7 684.1L303.6 668.8L304.6 685.8L305.5 672.2L307.4 662.8L308.3 677.1L309.2 668L310.2 676.6L311.1 662.2L312 658.5L313 663.8L313.9 652.1L315.8 658.4L316.7 649.7L317.6 672.7L318.6 660L319.5 676L320.4 658.1L321.4 661.6L322.3 648.4L323.2 659.5L324.2 660.4L325.1 654.5L326 654L327 647.3L327.9 658.8L328.8 663.3L329.8 663.1L330.7 638.7L331.6 658.2L332.6 650.6L333.5 654.9L334.4 638.1L335.4 648.7L336.3 633.9L337.2 647.9L338.2 639.5L339.1 635.4L340 633.2L341 647.6L341.9 641L342.8 638.2L343.8 648.8L344.7 631.6L345.6 632.9L346.6 631.5L347.5 641.9L348.4 632.1L349.4 630L350.3 626.2L351.2 633.6L353.1 620.4L354 631L355.9 629.1L356.8 633.1L358.7 620.5L359.6 628.7L361.5 621.3L362.4 622.8L364.3 624.3L366.2 622.9L367.1 621.5L368 622.3L369 621.1L369.9 623.7L370.8 621.3L371.8 622L372.7 621.7L375.5 621.7L376.4 621.4L377.4 622.5L379.2 620.8L380.2 621L381.1 623.4L382 622.9L383 624.3L384.8 624.4L385.8 621.9L386.7 624L387.6 621.9L388.6 622.1L389.5 631.5L390.4 627.2L392.3 635.8L394.2 633.6L395.1 625.8L396.1 633.2L397 635.4L397.9 635.8L398.9 640.2L399.8 637.2L400.7 639.6L401.7 648.2L402.6 644.3L403.5 626.5L404.5 641.2L405.4 646.2L406.3 643.8L407.3 653.5L409.1 647L410.1 661.3L411 658.4L411.9 658.2L412.9 659.2L413.8 661.9L415.7 657.3L416.6 662.4L417.5 660.6L418.5 662.2L419.4 671.9L420.3 669.3L421.3 674L422.2 670.8L423.1 677.1L424.1 678L425 671.3L426.9 688.5L427.8 683L428.7 683.8L429.7 688.5L430.6 687.7L431.5 685.7L432.5 692.7L433.4 692.9L434.3 696L435.3 693.9L437.1 700.3L438.1 699.3L439 695.1L439.9 705.6L440.9 705.8L441.8 702.6L442.7 707.6L443.7 701.3L444.6 709.5L445.5 709.9L446.5 709.2L447.4 707.3L450.2 711L451.1 710.4L452.1 715L453 713.1L453.9 712.5L454.9 715.6L455.8 714.8L456.7 714.5L457.7 715L458.6 716.5L459.5 715.6L460.5 716.9L461.4 716.9L462.3 718.3L464.2 718.7L465.1 717.9L466.1 719.6L467 719.5L467.9 719L468.9 719.3L469.8 720.1L470.7 719.7L472.6 719.7L473.5 720.2L475.4 720L479.1 720.4L495 720.6L891.9 720.6" stroke="#8c564b" stroke-width="6.07" stroke-linecap="square"/>
<path d="M201.6 700.2V720.6M206.1 699.6V720.6M210.2 690.4V720.6M214 695.7V720.6M217.5 697.7V720.6M220.7 675.5V716.9M223.8 689.2V720.6M226.6 693.9V720.6M229.3 687.1V720.6M231.9 686.2V720.6M234.3 681.5V720.6M236.6 683.9V720.6M238.8 678V720.6M240.9 689.2V720.6M242.9 684.6V720.6M244.8 686.8V720.6M246.7 682.1V720.6M248.4 692.5V720.6M250.2 686.2V720.6M251.8 668.2V720.6M253.4 676.7V720.6M255 685.9V720.6M256.5 659.6V712.7M257.9 683.7V720.6M259.3 628.8V706.7M260.7 653.2V714.6M262 678.6V720.6M263.3 659.4V709.3M264.6 679.2V720.6M265.8 657.4V708.5M267 665.5V718M268.1 677.5V720.6M269.3 680.9V720.6M270.4 667.2V720.6M271.5 684V720.6M272.5 657.3V703.3M273.6 676.6V720.6M274.6 673.3V720.6M275.6 649.7V711.2M276.5 666.3V720.6M277.5 665.4V720.6M278.4 652V716.1M279.3 634.3V720.6M280.2 670.5V720.6M281.1 637.1V707.9M282 663.2V720.6M282.8 641V707.5M283.7 671.3V720.6M284.5 661.1V713.6M285.3 645.3V699.5M286.1 617.4V696.5M286.9 678.6V720.6M287.6 655.1V714.5M288.4 658V720.6M289.1 623.4V694M289.9 666.3V713.2M290.6 643.5V700.9M291.3 651.8V715.8M292 653.8V720.6M292.7 657.1V714.9M293.4 668.8V713.5M294.3 633V693.4M295.2 635.6V690.9M296.2 638.5V704.7M297.1 652.4V710M298 635.6V685.7M299 642.6V697.6M299.9 667.2V720.6M300.8 602.7V688.7M301.8 631.4V692.3M302.7 662.9V718.4M303.6 629.5V699.1M304.6 660.2V720.6M305.5 642.1V697.4M306.4 637.2V720.6M307.4 641.5V706.2M308.3 627.6V716.2M309.2 645.7V688.7M310.2 654.7V714.1M311.1 640.8V685.6M312 633.8V687M313 639.3V719.8M313.9 621.2V686.6M314.8 617.3V676.4M315.8 620.9V710.8M316.7 625.5V673.1M317.6 651.1V695.1M318.6 638.3V694.8M319.5 654.5V694.2M320.4 636V681.2M321.4 640.8V692.1M322.3 622.7V676.2M323.2 640.2V678.3M324.2 633.9V683.6M325.1 634.8V683.8M326 613.9V687.3M327 627.2V664.6M327.9 634V675.5M328.8 644.2V697.4M329.8 645.9V681.2M330.7 593.6V664.2M331.6 642.1V676.1M332.6 626.2V672.4M333.5 623.6V676.8M334.4 618.9V655.7M335.4 606.8V668.2M336.3 617.1V648.8M337.2 624.6V662.8M338.2 622.2V661.3M339.1 618.8V649.8M340 618.6V646.7M341 633.8V665.1M341.9 626V660.6M342.8 605.9V653.5M343.8 629.1V661.2M344.7 612.3V649.2M345.6 617.1V647.8M346.6 606.4V645.6M347.5 618.4V655.8M348.4 617.3V645.4M349.4 603.2V645.2M350.3 614.4V640.6M351.2 619V651.7M352.2 616.7V640.1M353.1 609.5V631M354 621.5V639.8M355 620.7V641M355.9 609V638.7M356.8 625.7V645.3M357.8 617.7V640.3M358.7 613.3V632.9M359.6 619.5V638.6M360.6 618.5V635.4M361.5 611.2V629.3M362.4 617.8V628.9M363.4 617.7V633M364.3 614.3V628.9M365.2 619.6V627.5M366.2 619.4V626.6M367.1 618V627.1M368 619.5V625M369 618.4V624.3M369.9 620.5V626.2M370.8 617.8V623.4M371.8 619.3V624.3M375.5 620.7V623.4M376.4 619.6V622.9M377.4 620.9V624.5M378.3 619.8V625.7M379.2 615.5V624.1M380.2 617.3V625.6M381.1 619.6V627.7M382 618.2V626.5M383 620V628.5M383.9 618.2V630.1M384.8 619V631.5M385.8 616.8V629.8M386.7 611.9V631M387.6 616.4V631.6M388.6 615.1V631.4M389.5 625.1V641M390.4 614.9V637.1M391.4 622.8V637.3M392.3 624.2V643.7M393.2 616V648.9M394.2 625.8V641.3M395.1 616.5V635.8M396.1 622V643.5M397 626.4V644M397.9 623.2V644.4M398.9 630.5V649.8M399.8 627.1V646M400.7 627.7V650.4M401.7 632.2V670.2M402.6 624.3V654M403.5 608.9V636.6M404.5 630.3V656.7M405.4 636.3V660M406.3 633.7V660.9M407.3 640.5V676.7M408.2 636.9V671.6M409.1 632.7V657.2M410.1 648.2V674.6M411 642.7V668.5M411.9 643.5V669.9M412.9 647V672.4M413.8 649V676.6M414.7 648.1V685M415.7 645.6V669.3M416.6 645.3V672.3M417.5 651V670.9M418.5 644.6V681.4M419.4 661.9V681.2M420.3 658.8V680.8M421.3 664.4V685.7M422.2 656.5V681.3M423.1 655.3V697.2M424.1 668.8V687.5M425 660.3V679.6M425.9 671V696.2M426.9 675.6V704.4M427.8 662.2V691.4M428.7 670.1V698.3M429.7 680.9V704.4M430.6 679.8V696.3M431.5 675.2V694.6M432.5 683.5V709.2M433.4 683.6V699.9M434.3 689.7V703.6M435.3 687.6V700.5M436.2 684.4V702.6M437.1 694.1V706.7M438.1 693.7V706.5M439 684.9V705.1M439.9 699.9V713.5M440.9 695.1V711M441.8 698.1V707.9M442.7 703V713.7M443.7 694.7V706.5M444.6 702.9V713.6M445.5 704.2V714M446.5 705.1V715.3M447.4 702.8V710.5M448.3 700.7V714.6M449.3 706.8V712.9M450.2 706.3V714.4M451.1 707.7V713.4M452.1 711V718.1M453 710.7V715.4M453.9 710V715.5M454.9 712.9V718.4M455.8 712.4V716.6M456.7 712.4V716.4M457.7 713.4V716.7M458.6 714.5V719.3M459.5 713.8V716.9M460.5 714.8V718.1M461.4 715V718M462.3 717.1V719.6M463.3 717.4V719.5M464.2 717.6V719.6M465.1 717.1V718.7" stroke="#8c564b" stroke-width="6.07" stroke-linecap="round"/>
<path d="M201.6 457.6L206.1 471.2L210.2 469.2L214 493.9L217.5 465.8L220.7 457.6L223.8 474.8L226.6 469.9L229.3 468.1L231.9 482L234.3 467.8L236.6 481.8L238.8 478.6L240.9 471.7L242.9 475.9L244.8 474.9L246.7 487.1L248.4 469L250.2 490.7L251.8 468.9L253.4 485.2L255 494.4L256.5 482L257.9 494.4L259.3 488.8L260.7 484.9L262 474L263.3 474.4L264.6 479L265.8 489.3L267 505.8L268.1 490L269.3 491.9L270.4 490.2L271.5 496L272.5 496.7L273.6 479.9L274.6 508.8L276.5 475.7L277.5 503.5L278.4 507.1L279.3 497.5L280.2 499.8L281.1 492.3L282 478L282.8 498.9L283.7 490.1L284.5 506.5L285.3 505.9L286.1 495.7L286.9 509.7L287.6 484.3L288.4 507.4L289.1 504.6L289.9 517.6L290.6 509.7L291.3 518.4L292 511.8L292.7 530.8L294.3 482L295.2 534.8L296.2 483.8L297.1 511.5L298 497.9L299 526.2L299.9 483.1L300.8 529.3L301.8 515.7L302.7 492.8L303.6 535.3L304.6 552L305.5 519.8L306.4 531.1L307.4 535.3L308.3 535.5L309.2 544.9L310.2 503.3L311.1 507.2L312 546.9L313 529.3L313.9 535.8L314.8 513.6L315.8 543.9L316.7 508.2L317.6 533.8L318.6 547L319.5 537.8L320.4 546.5L321.4 505.1L322.3 538.2L323.2 549L324.2 541.7L325.1 522.4L326 560.4L327 572.7L327.9 529.2L329.8 558.5L330.7 554.5L331.6 538.3L332.6 596.8L333.5 539L334.4 562L335.4 551L336.3 563.4L337.2 518.8L338.2 574.9L339.1 551.4L340 607L341 570.2L341.9 561.1L342.8 596.4L343.8 605L344.7 576.2L345.6 565L346.6 564.4L347.5 592.5L348.4 579.8L349.4 606L350.3 564.1L351.2 597.9L352.2 574.5L353.1 597.3L354 599.9L355 575.8L355.9 610.7L356.8 584.1L357.8 607.6L358.7 616.2L359.6 617.4L360.6 594.4L361.5 611.5L362.4 616.8L363.4 632.8L364.3 602L365.2 605.6L366.2 616.2L367.1 612.9L368 661.5L369 631.9L369.9 625.9L370.8 628.5L371.8 637.8L372.7 630.9L373.6 643.2L374.6 644.2L375.5 652.1L376.4 639.7L377.4 650.2L378.3 649.8L379.2 633.3L380.2 649L381.1 650.7L382 666.2L383.9 647.2L385.8 659L386.7 662.6L387.6 662.4L388.6 661.5L389.5 668.8L390.4 686.7L391.4 655.3L393.2 674L394.2 665L395.1 684.7L396.1 669.5L397 678L397.9 675.4L398.9 684.2L399.8 682.8L401.7 680.9L402.6 685.2L403.5 687L404.5 693.3L405.4 683.8L406.3 692.1L407.3 695.2L408.2 696.7L409.1 701.3L410.1 700.5L411 704.3L411.9 699.1L412.9 701.1L413.8 701.2L414.7 706.7L415.7 705L416.6 706.4L417.5 702.9L418.5 710.1L419.4 710.8L420.3 705L421.3 707.9L422.2 712.6L423.1 707.5L424.1 708L425 709.4L425.9 715.3L426.9 712.4L427.8 714.3L428.7 714L429.7 716.1L430.6 712.5L431.5 715.8L432.5 715.1L433.4 715L435.3 716.2L436.2 717.1L437.1 717L438.1 717.6L439 719.1L439.9 717.4L440.9 718.5L442.7 718.8L443.7 719.3L445.5 719.7L446.5 719.1L447.4 719.1L449.3 719.9L450.2 719.5L453 720.3L454.9 720L456.7 720.3L463.3 720.5L891.9 720.6" stroke="#e377c2" stroke-width="6.07" stroke-linecap="square"/>
<path d="M201.6 457.6V485.5M206.1 457.6V495.1M210.2 457.6V494.6M214 463.7V522.5M217.5 457.6V501.8M220.7 457.6V477.4M223.8 457.6V494.2M226.6 457.6V494.5M229.3 457.6V488.7M231.9 457.6V510.3M234.3 457.6V506.4M236.6 457.6V503.2M238.8 457.6V500.1M240.9 457.6V499.9M242.9 457.6V507M244.8 457.6V503M246.7 457.6V518.9M248.4 457.6V491M250.2 458.4V523.7M251.8 457.6V495.7M253.4 457.6V518.5M255 466.9V520.7M256.5 457.6V517.5M257.9 463.9V518.5M259.3 457.6V517.7M260.7 457.6V517.2M262 457.6V507.9M263.3 457.6V506.9M264.6 457.6V506.6M265.8 464.8V515.2M267 479.3V549.7M268.1 462.9V518.8M269.3 457.6V522.6M270.4 461.6V520.3M271.5 462.3V528.4M272.5 471.3V536.2M273.6 457.6V523.4M274.6 462.7V538.3M275.6 461.9V519.9M276.5 457.6V519.1M277.5 471.1V532M278.4 457.6V538.5M279.3 468.9V529.5M280.2 457.6V528.4M281.1 457.6V543.1M282 457.6V519.1M282.8 457.6V538.6M283.7 460.2V519.4M284.5 474.8V542.1M285.3 467V558.5M286.1 464.3V525.6M286.9 464.5V553.4M287.6 457.6V526.4M288.4 479.8V542M289.1 475.3V531.7M289.9 490.3V549.5M290.6 457.6V558.2M291.3 483.1V546.7M292 484.7V551.2M292.7 465.4V609.8M293.4 472.7V550.2M294.3 457.6V511M295.2 496V565.3M296.2 457.6V511.8M297.1 480.3V554.9M298 465.7V536.1M299 497.5V568M299.9 457.6V510.9M300.8 457.6V558.1M301.8 486.2V559.8M302.7 460.8V522.8M303.6 506.7V594.9M304.6 523.9V594.3M305.5 457.6V563.8M306.4 501.9V565.3M307.4 494.7V597.2M308.3 501.5V602.9M309.2 515.5V590M310.2 457.6V559M311.1 457.6V541.4M312 515.9V580.5M313 493.8V581.8M313.9 503.8V574.6M314.8 480.7V544.2M315.8 470.5V576.8M316.7 458.3V536.6M317.6 490.5V605M318.6 515.2V582.6M319.5 491.9V618.9M320.4 497.9V576.8M321.4 468.7V543.4M322.3 502.8V614.5M323.2 511.3V581.2M324.2 512.7V601.8M325.1 469.8V557.2M326 524.8V589.5M327 529.1V617.4M327.9 498V574.9M328.8 478.6V590.5M329.8 510.1V587.7M330.7 487.4V584.4M331.6 506.5V589.5M332.6 560.8V640.7M333.5 503.9V588.1M334.4 507.6V625.4M335.4 508.1V579.3M336.3 527.3V597M337.2 480.3V554M338.2 543.5V646.9M339.1 490.3V594.7M340 555.7V653.4M341 541.2V611.3M341.9 530V628.5M342.8 558.8V636.3M343.8 569.3V633.1M344.7 534.2V609.6M345.6 510.5V596.1M346.6 522.4V593.9M347.5 559.2V632.5M348.4 545.6V607.1M349.4 567.7V642.2M350.3 535.2V598.6M351.2 551.8V626.5M352.2 543.5V632.3M353.1 523.6V647M354 537.5V642.4M355 530.7V600.8M355.9 579.3V639.5M356.8 522V616.4M357.8 560.6V639.4M358.7 582.2V651.3M359.6 584.4V644.4M360.6 562.7V617.9M361.5 583.2V639.3M362.4 592.6V673.9M363.4 609.2V658.6M364.3 562V663.3M365.2 559.8V631M366.2 591.2V653.8M367.1 576.5V634.9M368 636.2V711.4M369 607.5V660.9M369.9 600V652.5M370.8 595.7V658.2M371.8 611.4V668M372.7 584.2V656.6M373.6 614.1V683.4M374.6 617.4V664.7M375.5 629.9V682.2M376.4 611.7V673M377.4 628.3V680.6M378.3 629.6V672.6M379.2 598.5V662M380.2 623.9V669.4M381.1 626.8V676.4M382 645.6V687.6M383 633.1V679.3M383.9 629V666.2M384.8 634.2V675.5M385.8 632.7V683.3M386.7 643.5V694.5M387.6 636.3V677.7M388.6 641.6V700M389.5 654.1V693.5M390.4 665.2V715M391.4 641.3V671.4M392.3 646.3V677M393.2 654V696.3M394.2 645.7V694.8M395.1 668.7V697M396.1 656.5V704.1M397 665.2V690M397.9 658.1V690.8M398.9 669.3V702.4M399.8 652.9V695.3M400.7 671.6V704.3M401.7 667.8V692.6M402.6 664.6V695.6M403.5 674.9V697.3M404.5 678V710.4M405.4 670.4V693.4M406.3 681.8V703.6M407.3 684.8V706.7M408.2 687.6V707.8M409.1 690V710.8M410.1 689.7V709.9M411 696.1V712.3M411.9 691.8V706.4M412.9 691.9V708.1M413.8 694.2V709.5M414.7 695.8V713.7M415.7 699.4V716.8M416.6 699.9V711.8M417.5 696.8V707.9M418.5 704.4V715.3M419.4 702.3V716.8M420.3 700.7V710.4M421.3 703V714.5M422.2 705.2V720.6M423.1 703.3V713.9M424.1 703.1V711.5M425 703.4V714.3M425.9 711.5V718.7M426.9 707.4V716M427.8 711.4V719.3M428.7 711.1V718.1M429.7 712.6V720.3M430.6 710V717M431.5 709.8V717.8M432.5 712.4V717.2M433.4 712.6V717M434.3 713.7V718M435.3 714.4V717.9M436.2 714.8V719.5M437.1 714.9V718.7M438.1 715.1V719.3M439 717.9V720.3M439.9 716V718.5M440.9 717.4V720.5M441.8 717.8V720M442.7 717.3V719.8M443.7 718.5V720.1M444.6 718.5V720.6" stroke="#e377c2" stroke-width="6.07" stroke-linecap="round"/>
<path d="M891.9 457.6L826.6 654.9L788.4 691.4L761.2 704.2L740.2 710.1L723 713.3L708.5 715.2L695.9 716.5L674.8 718L650.1 719L609.5 719.9L549 720.4L240.6 720.6" stroke="#000" stroke-width="6.07" stroke-dasharray="22.46 9.71" stroke-linecap="butt"/>
<path d="M891.9 720.6L826.6 523.4L788.4 490.9L761.2 520.9L740.2 590.6L723 649.4L708.5 684.3L695.9 702.3L684.8 711.3L674.8 715.7L665.9 718L657.7 719.1L643.1 720.1L624.8 720.5L240.6 720.6" stroke="#000" stroke-width="6.07" stroke-dasharray="22.46 9.71" stroke-linecap="butt"/>
<path d="M891.9 720.6L826.6 720.6L788.4 716.5L761.2 677.4L740.2 626.7L723 613.3L708.5 628.8L684.8 672.2L674.8 687.3L665.9 697.8L657.7 705L650.1 709.7L643.1 713L636.6 715.2L630.5 716.7L619.4 718.5L609.5 719.4L596.3 720L574.5 720.4L240.6 720.6" stroke="#000" stroke-width="6.07" stroke-dasharray="22.46 9.71" stroke-linecap="butt"/>
<path d="M891.9 720.6L788.4 720.6L761.2 717.1L740.2 695.2L723 660L708.5 633.6L695.9 623.7L684.8 626.4L674.8 635.7L665.9 647.2L650.1 668.8L643.1 677.7L636.6 685.2L630.5 691.4L624.8 696.5L619.4 700.7L614.3 704.1L604.9 709.2L596.3 712.7L584.8 715.9L574.5 717.8L562.3 719.1L549 719.9L528.9 720.4L240.6 720.6" stroke="#000" stroke-width="6.07" stroke-dasharray="22.46 9.71" stroke-linecap="butt"/>
<path d="M891.9 720.6L657.7 720.6L592.3 719.3L488.7 720.5L240.6 720.6" stroke="#000" stroke-width="6.07" stroke-dasharray="22.46 9.71" stroke-linecap="butt"/>
<path d="M891.9 720.6L761.2 720.5L740.2 717.5L723 705.4L708.5 683.9L684.8 639.2L674.8 624.3L665.9 615.3L657.7 611.3L650.1 611.2L643.1 613.9L636.6 618.8L630.5 625.2L624.8 632.6L619.4 640.5L596.3 677.9L588.5 688.9L581.2 697.4L574.5 703.7L571.3 706.2L565.2 710.2L556.7 714.2L549 716.6L539.5 718.4L531 719.4L519.4 720.1L504.4 720.4L240.6 720.6" stroke="#000" stroke-width="6.07" stroke-dasharray="22.46 9.71" stroke-linecap="butt"/>
<path d="M891.9 720.6L674.8 720.6L657.7 720.4L650.1 719.9L643.1 719L636.6 717.5L630.5 715.5L624.8 713.1L609.5 705.1L600.5 700.9L596.3 699.6L592.3 698.6L584.8 698.1L577.8 699L571.3 700.7L544.1 710.9L531 714.8L515.8 717.7L498.4 719.4L478.8 720.2L450.5 720.5L240.6 720.6" stroke="#000" stroke-width="6.07" stroke-dasharray="22.46 9.71" stroke-linecap="butt"/>
<path d="M891.9 720.6L624.8 720.4L614.3 719.8L604.9 718.7L596.3 717.1L577.8 712.7L568.2 710.8L559.5 709.8L551.5 709.6L544.1 709.9L535.2 710.8L504.4 715.4L488.7 717.3L472 718.7L453.1 719.6L430.2 720.2L398.2 720.5L240.6 720.6" stroke="#000" stroke-width="6.07" stroke-dasharray="22.46 9.71" stroke-linecap="butt"/>
<path d="M891.9 720.6L521.2 720.6L428.8 719.6L240.6 720.6" stroke="#000" stroke-width="6.07" stroke-dasharray="22.46 9.71" stroke-linecap="butt"/>
<path d="M891.9 720.6L740.2 720.5L723 719.2L708.5 714.8L695.9 706.3L684.8 694.2L674.8 679.6L665.9 664L650.1 634L643.1 621.5L636.6 612L630.5 605.9L624.8 603.6L619.4 605L614.3 609.6L609.5 616.9L604.9 625.9L600.5 635.9L584.8 674.2L577.8 688.4L571.3 698.8L565.2 706L559.5 711L554.1 714.3L546.5 717.2L539.5 718.8L533 719.6L523.1 720.2L510.7 720.5L240.6 720.6" stroke="#000" stroke-width="6.07" stroke-dasharray="22.46 9.71" stroke-linecap="butt"/>
<path d="M891.9 720.6L674.8 720.6L657.7 720.3L650.1 719.5L643.1 717.6L636.6 714L630.5 708.4L624.8 700.6L619.4 691.1L604.9 660.7L600.5 652.9L596.3 647.3L592.3 644L588.5 642.9L584.8 643.8L581.2 646.4L577.8 650.2L571.3 659.9L559.5 680.8L554.1 689.6L549 696.8L544.1 702.5L539.5 707L533 711.7L528.9 713.9L525 715.6L517.6 717.8L510.7 719L502.8 719.8L480 720.5L240.6 720.6" stroke="#000" stroke-width="6.07" stroke-dasharray="22.46 9.71" stroke-linecap="butt"/>
<path d="M891.9 720.6L643.1 720.6L630.5 720.2L624.8 719.5L619.4 718.1L614.3 715.8L609.5 712.4L604.9 708L600.5 702.6L596.3 696.5L584.8 678.3L581.2 673.3L577.8 669.3L574.5 666.4L571.3 664.4L568.2 663.5L565.2 663.5L562.3 664.2L559.5 665.7L554.1 669.9L549 675.2L531 696.2L525 702L519.4 706.6L512.4 711L505.9 714L498.4 716.5L491.4 718L483.6 719.1L475.3 719.7L450.5 720.5L240.6 720.6" stroke="#000" stroke-width="6.07" stroke-dasharray="22.46 9.71" stroke-linecap="butt"/>
<path d="M891.9 720.6L630.5 720.6L609.5 720.4L596.3 719.3L588.5 717.7L581.2 715.6L565.2 709.7L559.5 708L554.1 706.8L546.5 706.1L539.5 706.4L533 707.3L504.4 714.5L491.4 717.1L478.8 718.7L463.6 719.8L446.2 720.3L422.1 720.6L240.6 720.6" stroke="#000" stroke-width="6.07" stroke-dasharray="22.46 9.71" stroke-linecap="butt"/>
<path d="M891.9 720.6L630.5 720.6L619.4 720.5L609.5 719.7L604.9 718.8L600.5 717.4L596.3 715.3L592.3 712.6L588.5 709.1L584.8 705.1L581.2 700.5L565.2 677.1L559.5 670L554.1 665.3L551.5 663.8L549 662.9L546.5 662.4L544.1 662.4L539.5 663.6L537.3 664.7L533 667.5L527 672.8L510.7 689.5L504.4 695.6L498.4 700.6L491.4 705.6L484.9 709.3L477.6 712.5L469.8 715L461.6 716.9L452.3 718.3L442.1 719.3L415.2 720.3L240.6 720.6" stroke="#000" stroke-width="6.07" stroke-dasharray="22.46 9.71" stroke-linecap="butt"/>
<path d="M891.9 720.6L614.3 720.6L600.5 720.3L592.3 719.4L584.8 717.4L581.2 715.8L577.8 713.8L571.3 708.6L568.2 705.4L562.3 698.2L546.5 675.9L541.8 669.7L537.3 664.7L533 660.9L528.9 658.3L525 656.8L521.2 656.3L517.6 656.6L512.4 658.3L509.1 660.1L504.4 663.4L496.9 669.9L474.2 692.5L466.6 698.9L459.7 703.9L453.1 707.8L446.2 711.1L439 713.8L430.9 716L422.1 717.7L412.3 718.8L400.8 719.7L386.5 720.2L349.9 720.6L240.6 720.6" stroke="#000" stroke-width="6.07" stroke-dasharray="22.46 9.71" stroke-linecap="butt"/>
<path d="M891.9 720.6L614.3 720.6L592.3 720.3L581.2 719.4L571.3 717.6L562.3 715L544.1 708.6L535.2 706.1L527 704.7L517.6 704.2L507.5 704.8L495.5 706.1L422.7 716.2L408.3 717.7L392.9 718.8L371.4 719.8L344.3 720.3L240.6 720.6" stroke="#000" stroke-width="6.07" stroke-dasharray="22.46 9.71" stroke-linecap="butt"/>
<path d="M891.9 720.6L600.5 720.6L584.8 720.2L574.5 718.7L568.2 716.7L562.3 713.6L556.7 709.3L551.5 703.9L546.5 697.7L541.8 690.7L535.2 679.6L521.2 655L515.8 646.4L512.4 641.6L507.5 635.8L502.8 631.8L498.4 629.4L494.1 628.6L490 629.2L486.1 630.9L481.2 634.5L476.5 639.3L468.7 649.1L447.1 680.4L439.8 689.5L433 696.6L426.7 702.1L420.2 706.7L413.4 710.5L406.6 713.3L398.2 715.8L388.7 717.7L378 719L364.8 719.8L330.6 720.5L240.6 720.6" stroke="#000" stroke-width="6.07" stroke-dasharray="22.46 9.71" stroke-linecap="butt"/>
<path d="M891.9 720.6L544.1 720.6L528.9 720.5L519.4 720.1L512.4 719.3L507.5 718.4L502.8 717.1L496.9 714.8L492.7 712.7L487.4 709.5L468.7 695.9L460.6 690.9L455.9 688.7L451.4 687.3L447.1 686.5L442.9 686.3L435.2 687.1L426 689.9L418.3 693.2L395.8 703.9L381.7 709.4L369.1 713.1L356.1 715.8L338 718.1L315.7 719.6L286.6 720.3L240.6 720.6" stroke="#000" stroke-width="6.07" stroke-dasharray="22.46 9.71" stroke-linecap="butt"/>
<path d="M891.9 720.6L515.8 720.6L490 720.4L477.6 719.6L466.6 718.1L455 715.5L432.3 709.1L421.4 706.5L409.4 704.6L397.2 704L386.9 704.4L375.2 705.5L327.8 712.4L301.4 715.4L273.2 717.6L240.6 719" stroke="#000" stroke-width="6.07" stroke-dasharray="22.46 9.71" stroke-linecap="butt"/>
<path d="M891.9 720.6L584.8 720.6L568.2 720.3L556.7 719.2L549 717.5L541.8 714.8L537.3 712.3L531 707.8L525 702.4L519.4 696.3L514.1 689.7L499.8 670.6L492.7 662.6L488.7 659.1L486.1 657.4L482.4 655.8L478.8 655.2L475.3 655.5L472 656.7L467.7 659.3L463.6 662.8L456.8 670.1L438.2 692.9L432.3 699.1L426.7 704L420.8 708.3L415.2 711.5L409.4 714.1L402.9 716.2L395.8 717.8L387.8 719L378.4 719.7L366.6 720.2L336.7 720.6L240.6 720.6" stroke="#000" stroke-width="6.07" stroke-dasharray="22.46 9.71" stroke-linecap="butt"/>
<path d="M891.9 720.6L537.3 720.6L521.2 720.3L512.4 719.5L505.9 718.1L501.3 716.3L496.9 713.8L491.4 709.4L487.4 705.3L482.4 698.9L477.6 691.9L465.6 673L458.7 663.7L455 660L451.4 657.3L447.9 655.7L443.8 655.1L440.6 655.6L436.7 657.1L433 659.5L429.5 662.4L422.7 669.3L403.9 690.7L397.7 696.7L391.9 701.6L386.5 705.6L380.5 709.1L374.4 711.9L368.4 714.1L360.7 716.2L352.3 717.8L342.9 718.9L331.6 719.7L302.7 720.4L240.6 720.6" stroke="#000" stroke-width="6.07" stroke-dasharray="22.46 9.71" stroke-linecap="butt"/>
<path d="M891.9 720.6L512.4 720.6L498.4 720.4L488.7 719.4L482.4 717.9L477.6 715.9L473.1 713.1L467.7 708.5L462.6 702.8L457.7 696.2L439.8 667.2L435.2 660.5L431.6 655.9L427.4 651.5L422.7 648L418.3 646L414 645.5L410.5 645.9L407.2 647L403.4 648.9L399.2 651.8L391.5 658.7L370.2 681L359 691.4L352.6 696.5L346 701L339.4 704.9L332.4 708.2L324.7 711.1L316.4 713.6L307.3 715.6L297.4 717.2L286.3 718.4L273.7 719.3L240.6 720.3" stroke="#000" stroke-width="6.07" stroke-dasharray="22.46 9.71" stroke-linecap="butt"/>
<path d="M891.9 720.6L494.1 720.6L477.6 720.3L467.7 719.1L460.6 717.2L455 714.6L449.6 711L443.8 705.6L438.2 699.1L432.3 690.7L426 680.5L409.4 652L403.9 643.6L398.7 636.7L392.4 629.9L386.5 625.4L383.4 623.7L380.5 622.6L377.6 621.9L374.4 621.6L369.1 622.1L363.8 623.7L358 626.5L351.7 630.6L340.7 639.4L317.6 660.3L307 669.5L295.7 678.2L284.5 685.8L274.1 691.8L263.5 697.1L252.4 701.6L240.6 705.6" stroke="#000" stroke-width="6.07" stroke-dasharray="22.46 9.71" stroke-linecap="butt"/>
<path d="M891.9 720.6L468.7 720.5L456.8 720.2L447.9 719.5L440.6 718.1L434.5 716.2L430.2 714.3L425.4 711.6L421.4 708.8L417 705.1L412.8 700.9L408.3 695.5L399.7 683.6L392.4 671.5L384.3 656.5L354.5 596.5L340.7 570.5L333.4 557.8L326.1 546.3L318.9 535.8L311.6 526.3L303.8 517L295.8 508.8L287.6 501.3L279.1 494.6L270.2 488.6L260.9 483.4L251 478.7L240.6 474.7" stroke="#000" stroke-width="6.07" stroke-dasharray="22.46 9.71" stroke-linecap="butt"/>
<path d="M201.6 720.6L363.4 720.5L409.1 720.1L411.9 719.8L419.4 719.8L422.2 719.4L424.1 719.6L442.7 718.9L443.7 718.5L444.6 718.7L448.3 718.2L453 718.3L461.4 717.5L466.1 717.5L469.8 717L494.1 715.6L511.8 715.2L522.1 715.3L537 716L576.2 719.6L598.6 720.5L891.9 720.6" stroke="#1f77b4" stroke-width="6.07" stroke-linecap="butt"/>
<path d="M891.9 720.6L600.5 720.5L574.5 719.4L533 715.8L512.4 715.2L490 715.8L436 719.1L405.5 720L355.8 720.5L240.6 720.6" stroke="#ff7f0e" stroke-width="6.07" stroke-dasharray="22.46 9.71" stroke-linecap="butt"/>
</g>
<rect x="167.3" y="128.4" width="758.7" height="289.1" fill="none" stroke="#000" stroke-width="3.10" stroke-linejoin="miter"/>
<rect x="167.3" y="444.4" width="758.7" height="289.8" fill="none" stroke="#000" stroke-width="3.10" stroke-linejoin="miter"/>
<path d="M153.3 141.5H167.3M153.3 272.9H167.3M153.3 404.4H167.3M153.3 457.6H167.3M153.3 589.1H167.3M153.3 720.6H167.3M349.2 417.5V431.2M349.2 734.2V747.9M566.3 417.5V431.2M566.3 734.2V747.9M783.4 417.5V431.2M783.4 734.2V747.9" stroke="#000" stroke-width="3.10" stroke-linecap="butt" fill="none"/>
<g fill="#000"><text transform="translate(87.96 153.40) scale(1.0427 1)" font-family='"Liberation Sans", sans-serif' font-size="34.60" font-weight="normal">1.0</text><text transform="translate(89.33 284.85) scale(1.0156 1)" font-family='"Liberation Sans", sans-serif' font-size="34.60" font-weight="normal">0.5</text><text transform="translate(89.33 416.30) scale(1.0133 1)" font-family='"Liberation Sans", sans-serif' font-size="34.60" font-weight="normal">0.0</text><text transform="translate(87.96 469.50) scale(1.0427 1)" font-family='"Liberation Sans", sans-serif' font-size="34.60" font-weight="normal">1.0</text><text transform="translate(89.33 601.00) scale(1.0156 1)" font-family='"Liberation Sans", sans-serif' font-size="34.60" font-weight="normal">0.5</text><text transform="translate(89.33 732.50) scale(1.0133 1)" font-family='"Liberation Sans", sans-serif' font-size="34.60" font-weight="normal">0.0</text><text transform="translate(313.03 787.70) scale(1.0523 1)" font-family='"Liberation Sans", sans-serif' font-size="34.60" font-weight="normal">10</text><rect x="355.50" y="768.30" width="14.50" height="2.1" fill="#000"/><text transform="translate(373.35 775.60) scale(1.0012 1)" font-family='"Liberation Sans", sans-serif' font-size="23.60" font-weight="normal">5</text><text transform="translate(530.13 787.70) scale(1.0523 1)" font-family='"Liberation Sans", sans-serif' font-size="34.60" font-weight="normal">10</text><rect x="572.60" y="768.30" width="14.50" height="2.1" fill="#000"/><text transform="translate(590.50 775.60) scale(1.0012 1)" font-family='"Liberation Sans", sans-serif' font-size="23.60" font-weight="normal">3</text><text transform="translate(747.23 787.70) scale(1.0523 1)" font-family='"Liberation Sans", sans-serif' font-size="34.60" font-weight="normal">10</text><rect x="789.70" y="768.30" width="14.50" height="2.1" fill="#000"/><text transform="translate(806.53 775.60) scale(1.1011 1)" font-family='"Liberation Sans", sans-serif' font-size="23.60" font-weight="normal">1</text><text transform="translate(536.55 835.70) scale(1.1202 1)" font-family='"Liberation Sans", sans-serif' font-size="33.60" font-weight="normal">p</text><text transform="translate(6.96 125.60) scale(0.9941 1)" font-family='"Liberation Sans", sans-serif' font-size="44.00" font-weight="bold">A</text><text transform="translate(4.90 443.80) scale(0.9654 1)" font-family='"Liberation Sans", sans-serif' font-size="43.30" font-weight="bold">B</text><text transform="translate(31.00 341.42) rotate(-90) scale(1.0117 1)" font-family='"Liberation Sans", sans-serif' font-size="35.20">Fraction</text><text transform="translate(63.40 331.94) rotate(-90) scale(1.0985 1)" font-family='"Liberation Sans", sans-serif' font-size="34.40">(triples)</text><text transform="translate(27.80 659.22) rotate(-90) scale(1.0126 1)" font-family='"Liberation Sans", sans-serif' font-size="35.20">Fraction</text><text transform="translate(63.40 687.37) rotate(-90) scale(1.0659 1)" font-family='"Liberation Sans", sans-serif' font-size="34.40">(quadruples)</text><path d="M185.4 19.10H214.2" stroke="#1f77b4" stroke-width="2.1" stroke-opacity="0.8"/><text x="235.61" y="28.85" font-family='"Liberation Sans", sans-serif' font-size="28.80" font-weight="normal">3</text><text x="297.86" y="28.85" font-family='"Liberation Sans", sans-serif' font-size="28.80" font-weight="normal">2</text><text x="362.11" y="28.85" font-family='"Liberation Sans", sans-serif' font-size="28.80" font-weight="normal">1</text><text x="252.25" y="17.35" font-family='"Liberation Sans", sans-serif' font-size="19.20">0</text><text x="315.35" y="17.35" font-family='"Liberation Sans", sans-serif' font-size="19.20">0</text><text x="378.85" y="17.35" font-family='"Liberation Sans", sans-serif' font-size="19.20">0</text><rect x="272.50" y="18.85" width="17.10" height="2.2" fill="#000"/><rect x="336.30" y="18.85" width="17.20" height="2.2" fill="#000"/><path d="M185.4 60.65H214.2" stroke="#ff7f0e" stroke-width="2.1" stroke-opacity="0.8"/><text x="235.61" y="70.40" font-family='"Liberation Sans", sans-serif' font-size="28.80" font-weight="normal">3</text><text x="297.86" y="70.40" font-family='"Liberation Sans", sans-serif' font-size="28.80" font-weight="normal">2</text><text x="362.11" y="70.40" font-family='"Liberation Sans", sans-serif' font-size="28.80" font-weight="normal">1</text><text x="252.25" y="58.90" font-family='"Liberation Sans", sans-serif' font-size="19.20">0</text><text x="315.35" y="58.90" font-family='"Liberation Sans", sans-serif' font-size="19.20">0</text><text x="378.85" y="58.90" font-family='"Liberation Sans", sans-serif' font-size="19.20">1</text><rect x="272.50" y="60.40" width="17.10" height="2.2" fill="#000"/><rect x="336.30" y="60.40" width="17.20" height="2.2" fill="#000"/><path d="M185.4 102.20H214.2" stroke="#2ca02c" stroke-width="2.1" stroke-opacity="0.8"/><text x="235.61" y="111.95" font-family='"Liberation Sans", sans-serif' font-size="28.80" font-weight="normal">3</text><text x="297.86" y="111.95" font-family='"Liberation Sans", sans-serif' font-size="28.80" font-weight="normal">2</text><text x="362.11" y="111.95" font-family='"Liberation Sans", sans-serif' font-size="28.80" font-weight="normal">1</text><text x="252.25" y="100.45" font-family='"Liberation Sans", sans-serif' font-size="19.20">0</text><text x="315.35" y="100.45" font-family='"Liberation Sans", sans-serif' font-size="19.20">0</text><text x="378.85" y="100.45" font-family='"Liberation Sans", sans-serif' font-size="19.20">2</text><rect x="272.50" y="101.95" width="17.10" height="2.2" fill="#000"/><rect x="336.30" y="101.95" width="17.20" height="2.2" fill="#000"/><path d="M444.0 19.10H472.8" stroke="#d62728" stroke-width="2.1" stroke-opacity="0.8"/><text x="494.16" y="28.85" font-family='"Liberation Sans", sans-serif' font-size="28.80" font-weight="normal">3</text><text x="556.41" y="28.85" font-family='"Liberation Sans", sans-serif' font-size="28.80" font-weight="normal">2</text><text x="620.66" y="28.85" font-family='"Liberation Sans", sans-serif' font-size="28.80" font-weight="normal">1</text><text x="510.80" y="17.35" font-family='"Liberation Sans", sans-serif' font-size="19.20">0</text><text x="573.90" y="17.35" font-family='"Liberation Sans", sans-serif' font-size="19.20">0</text><text x="637.40" y="17.35" font-family='"Liberation Sans", sans-serif' font-size="19.20">3</text><rect x="531.05" y="18.85" width="17.10" height="2.2" fill="#000"/><rect x="594.85" y="18.85" width="17.20" height="2.2" fill="#000"/><path d="M444.0 60.65H472.8" stroke="#9467bd" stroke-width="2.1" stroke-opacity="0.8"/><text x="494.16" y="70.40" font-family='"Liberation Sans", sans-serif' font-size="28.80" font-weight="normal">3</text><text x="556.41" y="70.40" font-family='"Liberation Sans", sans-serif' font-size="28.80" font-weight="normal">2</text><text x="620.66" y="70.40" font-family='"Liberation Sans", sans-serif' font-size="28.80" font-weight="normal">1</text><text x="510.80" y="58.90" font-family='"Liberation Sans", sans-serif' font-size="19.20">0</text><text x="573.90" y="58.90" font-family='"Liberation Sans", sans-serif' font-size="19.20">1</text><text x="637.40" y="58.90" font-family='"Liberation Sans", sans-serif' font-size="19.20">0</text><rect x="531.05" y="60.40" width="17.10" height="2.2" fill="#000"/><rect x="594.85" y="60.40" width="17.20" height="2.2" fill="#000"/><path d="M444.0 102.20H472.8" stroke="#8c564b" stroke-width="2.1" stroke-opacity="0.8"/><text x="494.16" y="111.95" font-family='"Liberation Sans", sans-serif' font-size="28.80" font-weight="normal">3</text><text x="556.41" y="111.95" font-family='"Liberation Sans", sans-serif' font-size="28.80" font-weight="normal">2</text><text x="620.66" y="111.95" font-family='"Liberation Sans", sans-serif' font-size="28.80" font-weight="normal">1</text><text x="510.80" y="100.45" font-family='"Liberation Sans", sans-serif' font-size="19.20">0</text><text x="573.90" y="100.45" font-family='"Liberation Sans", sans-serif' font-size="19.20">1</text><text x="637.40" y="100.45" font-family='"Liberation Sans", sans-serif' font-size="19.20">1</text><rect x="531.05" y="101.95" width="17.10" height="2.2" fill="#000"/><rect x="594.85" y="101.95" width="17.20" height="2.2" fill="#000"/><path d="M702.5 19.10H731.3" stroke="#e377c2" stroke-width="2.1" stroke-opacity="0.8"/><text x="752.71" y="28.85" font-family='"Liberation Sans", sans-serif' font-size="28.80" font-weight="normal">3</text><text x="814.96" y="28.85" font-family='"Liberation Sans", sans-serif' font-size="28.80" font-weight="normal">2</text><text x="879.21" y="28.85" font-family='"Liberation Sans", sans-serif' font-size="28.80" font-weight="normal">1</text><text x="769.35" y="17.35" font-family='"Liberation Sans", sans-serif' font-size="19.20">0</text><text x="832.45" y="17.35" font-family='"Liberation Sans", sans-serif' font-size="19.20">2</text><text x="895.95" y="17.35" font-family='"Liberation Sans", sans-serif' font-size="19.20">0</text><rect x="789.60" y="18.85" width="17.10" height="2.2" fill="#000"/><rect x="853.40" y="18.85" width="17.20" height="2.2" fill="#000"/><path d="M702.5 60.65H731.3" stroke="#7f7f7f" stroke-width="2.1" stroke-opacity="0.8"/><text x="752.71" y="70.40" font-family='"Liberation Sans", sans-serif' font-size="28.80" font-weight="normal">3</text><text x="814.96" y="70.40" font-family='"Liberation Sans", sans-serif' font-size="28.80" font-weight="normal">2</text><text x="879.21" y="70.40" font-family='"Liberation Sans", sans-serif' font-size="28.80" font-weight="normal">1</text><text x="769.35" y="58.90" font-family='"Liberation Sans", sans-serif' font-size="19.20">0</text><text x="832.45" y="58.90" font-family='"Liberation Sans", sans-serif' font-size="19.20">3</text><text x="895.95" y="58.90" font-family='"Liberation Sans", sans-serif' font-size="19.20">0</text><rect x="789.60" y="60.40" width="17.10" height="2.2" fill="#000"/><rect x="853.40" y="60.40" width="17.20" height="2.2" fill="#000"/><path d="M702.5 102.20H731.3" stroke="#bcbd22" stroke-width="2.1" stroke-opacity="0.8"/><text x="752.71" y="111.95" font-family='"Liberation Sans", sans-serif' font-size="28.80" font-weight="normal">3</text><text x="814.96" y="111.95" font-family='"Liberation Sans", sans-serif' font-size="28.80" font-weight="normal">2</text><text x="879.21" y="111.95" font-family='"Liberation Sans", sans-serif' font-size="28.80" font-weight="normal">1</text><text x="769.35" y="100.45" font-family='"Liberation Sans", sans-serif' font-size="19.20">1</text><text x="832.45" y="100.45" font-family='"Liberation Sans", sans-serif' font-size="19.20">0</text><text x="895.95" y="100.45" font-family='"Liberation Sans", sans-serif' font-size="19.20">0</text><rect x="789.60" y="101.95" width="17.10" height="2.2" fill="#000"/><rect x="853.40" y="101.95" width="17.20" height="2.2" fill="#000"/></g>
</svg></body></html>
